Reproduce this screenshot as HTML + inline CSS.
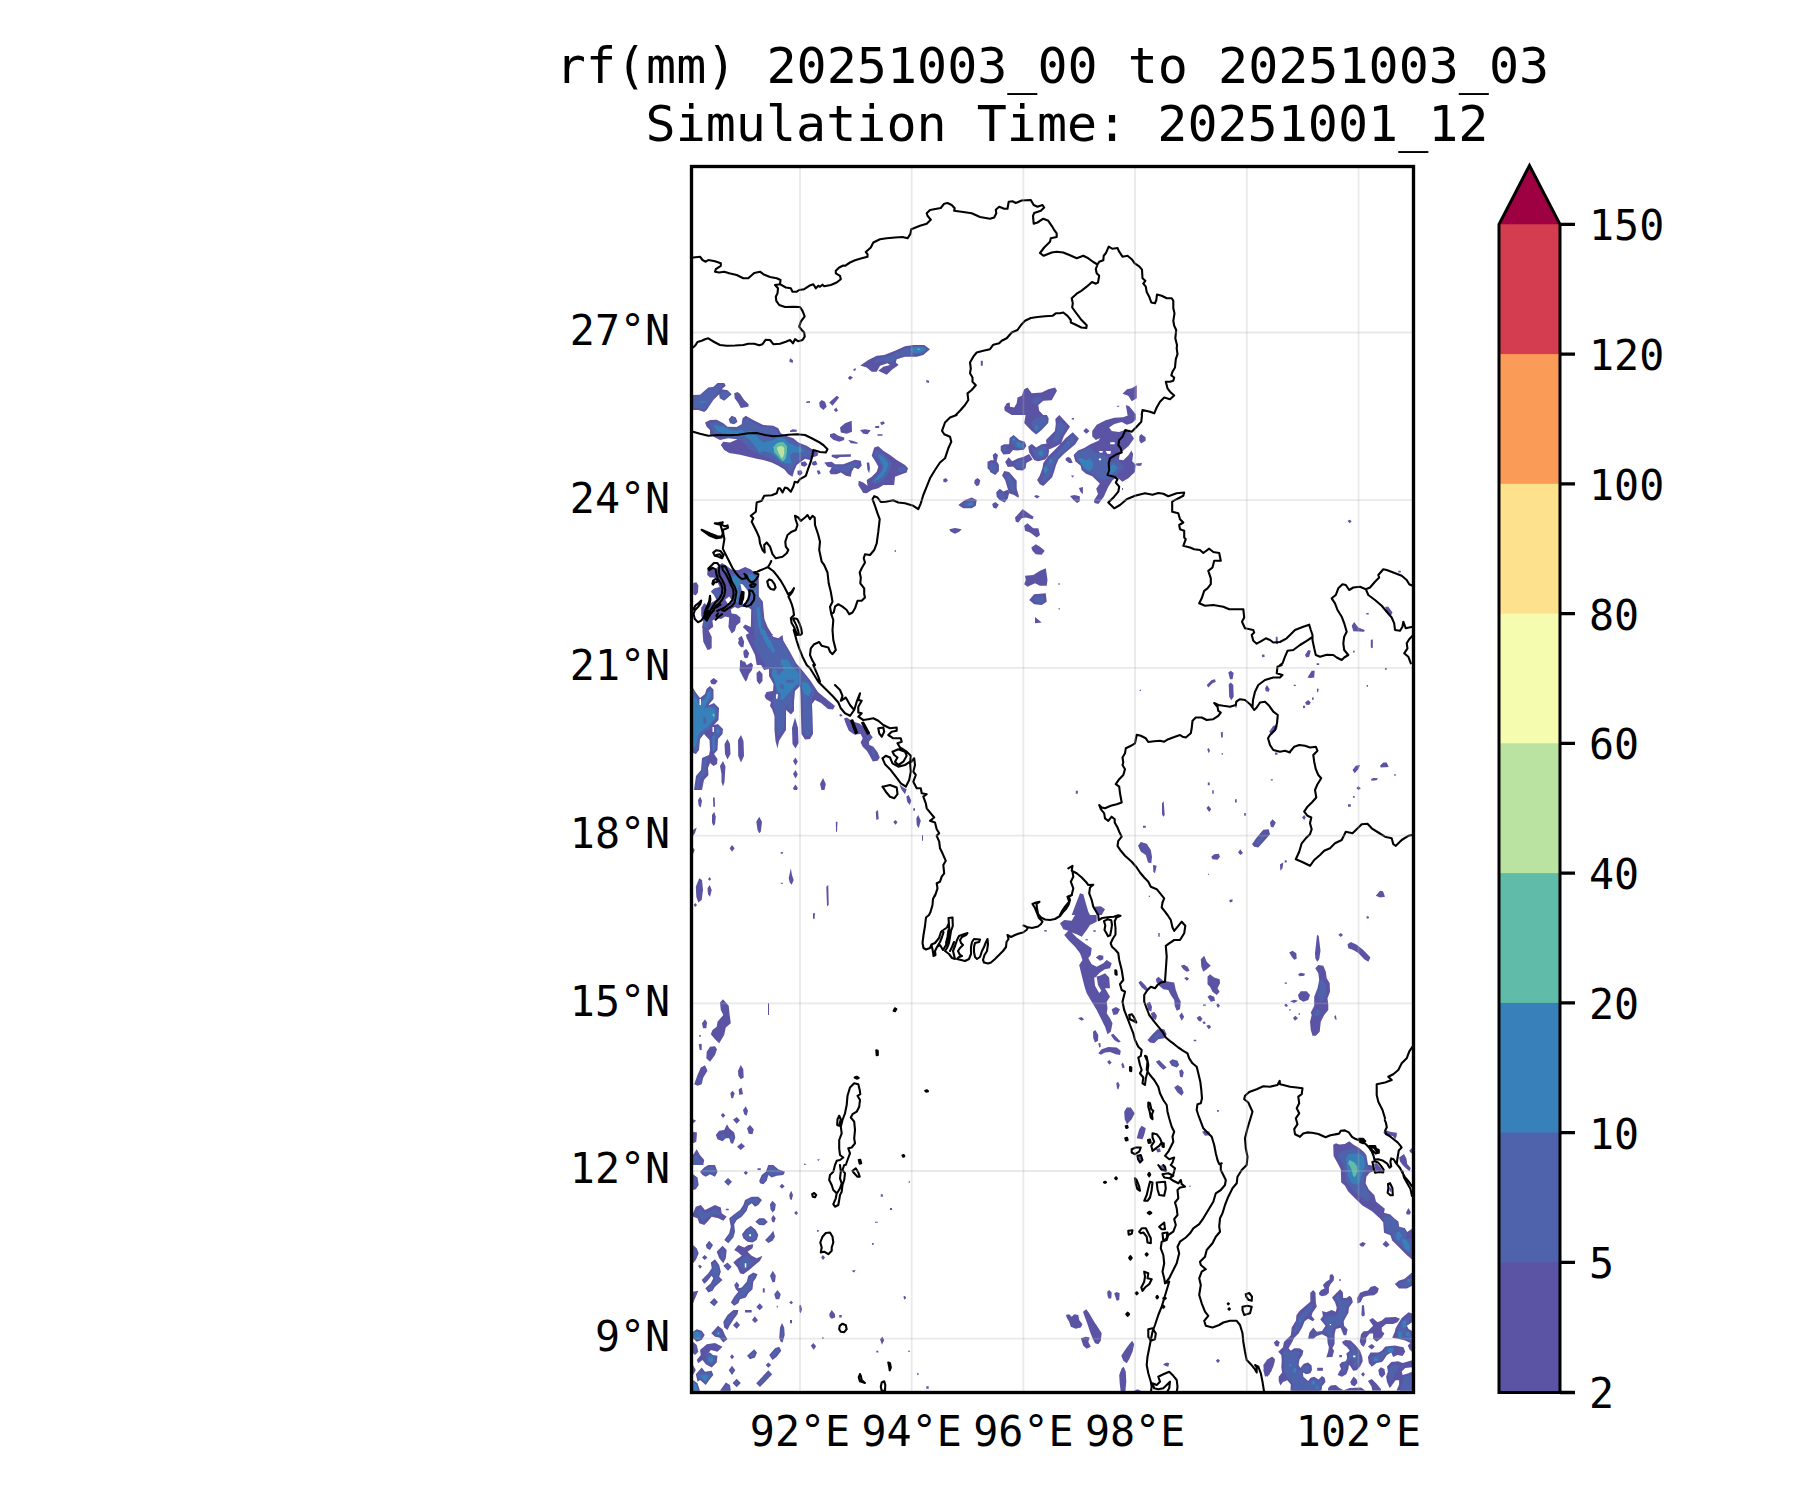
<!DOCTYPE html>
<html><head><meta charset="utf-8"><title>rf(mm)</title>
<style>
html,body{margin:0;padding:0;background:#fff;}
svg{display:block}
text{font-family:"DejaVu Sans Mono","Liberation Mono",monospace;fill:#000}
.t{font-size:50px;text-anchor:middle}
.l{font-size:41.67px}
.b{fill:none;stroke:#000;stroke-width:2.1;stroke-linejoin:round;stroke-linecap:round}
.g{stroke:#b0b0b0;stroke-opacity:0.28;stroke-width:1.8;fill:none}
.c1{fill:#5b53a4}.c2{fill:#4e63ac}.c3{fill:#3880b9}.c4{fill:#60bba8}.c5{fill:#bae3a1}.c6{fill:#f5fbaf}.c0{fill:#fff}
</style></head><body>
<svg width="1800" height="1500" viewBox="0 0 1800 1500">
<rect width="1800" height="1500" fill="#fff"/>
<text class="t" x="1052.5" y="83">rf(mm) 20251003_00 to 20251003_03</text>
<text class="t" x="1067" y="141">Simulation Time: 20251001_12</text>
<defs><clipPath id="ax"><rect x="691.5" y="166.5" width="722" height="1226"/></clipPath></defs>
<g clip-path="url(#ax)">
<path class="c1" d="M860.3 365.5L868.3 360L876.7 355.8L884.2 355L895 350.8L905 346.3L913.3 345L924.2 345L930 349.2L923.3 355L916.7 356.7L905 356.7L896.7 359.2L895.8 362.5L898.7 365L892.5 369.2L886.7 374.7L878.3 370.8L883.3 366.7L890 365L887.5 363.3L880 365.8L876.7 371.7L871.7 371.7L866.7 367.5ZM790 358.3L793 360.3L792.7 363L789.3 361.7ZM853.3 369.2L855.5 368L855.8 370.3L853.7 371ZM850 375.8L853 377.5L850 380L847.8 378ZM926.3 380L929.2 380.8L928.8 383L926.3 382.3ZM980.8 360.8L982.8 360.8L982.8 365.8L980.8 365.8ZM806.3 401.5L810 401L810 402.7L806.3 403ZM821.7 400L825 401.7L826.7 406.7L823.3 410L819.7 406.7L819.2 402.5ZM836.7 395.8L839.2 397.5L832.5 405.8L829.2 402.5ZM836.3 407.5L838 410.8L835.8 412L833.8 410ZM693 395L700 394.7L708.3 387.5L713.3 387L717.5 383L724.2 383L725.8 385.8L721.7 389.2L727.5 390.3L731.7 394.2L724.2 400.8L719.7 398.3L719.2 394.2L713.3 400L706.7 410L704.2 412L698.3 410L693 410ZM734.2 393.3L737.5 392L740 393.7L744.2 400L748.7 404.2L748.3 406.7L740.8 408L738.3 403.3L734.7 398.3ZM705 422.5L710 420L716.7 419.7L723.3 423.3L727.5 426.7L736.7 427L741.7 424.2L742.5 418.3L745.8 415.8L750 418.3L756.7 421.7L763.3 425L773.3 425.8L778.3 428.3L780.8 433.3L785.8 435.8L793.3 438.3L798.3 442.5L806.7 445.8L813.3 450L818.3 453.3L817.5 455.8L812.5 457.5L810 460L805 458.7L800 462.5L796.7 465L794.2 470.8L792.5 476.7L788.3 474.2L784.2 469.2L778.3 465.8L771.7 462.5L763.3 460L756.7 458.7L748.3 456.7L740 454.7L729.2 453L724.2 450L720.8 445L723.3 441.7L730 442.5L737.5 439.2L728.3 438.3L720 440L715 437.5L710 434.2L710 430L706.7 426.7ZM728.7 419.2L731.7 415.8L735.8 417.5L737.5 421.7L734.2 424.2L730 423.3ZM800.8 462.5L805 461.3L807.5 464.2L805 466.7L801.3 465.8ZM797.5 470.8L801.3 470.3L802.5 473.3L800 475.8L797.5 474.2ZM812.5 461.7L815.8 460.8L817.5 464.2L814.2 465.8L811.7 464.2ZM816.7 470.8L819.2 470.3L820.8 473.3L818.3 474.7ZM790 430.8L792.5 429.2L796.7 429.7L796.7 431.7L790 432ZM840 427.5L845 423.3L851.7 420.8L852 431.7L846.7 433.7L840.8 432.5ZM830 434.2L834.2 433L838.3 435.8L844.2 437.5L844.2 440L839.2 441.7L833.3 439.7L830 436.7ZM860 430L865 429.2L870.8 430.3L867.5 434.2L863.3 433.7ZM880 422.5L883.3 421.3L885 423.3L881.7 425.3ZM875 426.3L879.2 425.8L879.2 428L875.3 428ZM877.5 434.2L882.5 434.2L882.5 435.8L877.5 435.8ZM848.3 440L852.5 440.8L857.5 442.5L857.5 443.7L850.8 443.3ZM831.7 454.7L850.8 454.2L850.8 456.7L840 457L836.7 458.7L831.7 456.7ZM824.2 462.5L831.7 461.7L835 464.2L843.3 464.2L850 461.7L855 459.7L860.8 460.8L861.7 465.8L858.3 469.2L854.2 467.5L851.7 471.7L850.8 476.7L845.8 475.8L840.8 472.5L836.7 474.2L830.8 474.2L829.2 471.7L831.7 467.5L827.5 466.7ZM866.7 462.5L869.2 462.5L870 468.3L869.2 473.3L867.5 470ZM874.2 447.5L878.3 446.3L883.3 450.8L890 455L896.7 460L905 465L908 468.3L906.7 472.5L901.7 474.2L895 476.7L894.2 485L883.3 485L878.3 488.3L871.7 490L866.7 493.3L863.3 493L858.3 485L858.7 480.8L863.3 482.5L867.5 485.8L866.7 480L871.7 476.7L876.7 471.7L878.3 466.7L875 460.8L871.7 455.8ZM987.5 461.7L990 460.8L990 470.8L987.5 468.3ZM943.3 479.2L945.8 478L948 480.3L945.8 482.5L943.3 481.7ZM974.7 480L977.5 478L980.3 480.3L979.2 485L976.7 486.3L974.2 483.3ZM958.3 505L965 500L971.7 497.5L976.7 500L975.8 505.8L971.7 508.3L963.3 508.3ZM949.2 529.2L955 528L961.7 529.2L959.2 531.7L955 533.7L950.8 531.7ZM894.7 550L895.8 550L895.8 552L894.7 552ZM702.5 623.3L710 621.7L713.3 626.7L708.3 630L711.7 636.7L711.7 648.3L707.5 650L703.3 641.7L702.5 631.7ZM738.3 638.3L741.7 635.8L744.2 641.7L743.3 647.5L740 645.8ZM743.3 651.7L746.7 649.2L749.2 653.3L747.5 658.3L744.2 657.5ZM740 660.8L745 661.7L746.7 665L740 665ZM745.8 635L750.8 631.7L763.3 631.7L768.3 630L773.3 636.7L778.3 638.3L782.5 635L783.7 643.3L788.3 651.7L791.7 658.3L795 665L756.7 665L755 655L751.7 648.3L746.7 638.3ZM707.6 567.8L710 567L714.8 570.2L718 566.2L722 563L726 565.4L731.6 569.4L738 570.2L745.2 567L750.8 569.4L756.4 574.2L758.8 579L758.8 596.6L762.8 601.4L763.6 611L764.4 619L767.6 627L771.6 633.4L773.2 635L750.8 635L746 630.2L742.8 627L745.2 624.6L750.8 627L751.2 609.4L747.6 607L741.2 607L738 608.6L734.8 607L730.8 609.4L731.6 613.4L736.4 614.2L740.4 617.4L740.4 622.2L736.4 625.4L734.8 631L731.6 633.4L728.4 627L729.2 617.4L725.2 616.6L721.2 619L716.4 618.2L712.4 620.6L713.2 627L710.8 628.6L707.6 631.8L709.2 635L705.2 635L702 627L703.6 622.2L701.2 615.8L701.2 607.8L704.4 603L708.4 607L710.8 603L716.4 599.8L714 595L710.8 591.8L714 588.6L719.6 587L717.2 581.4L714 577.4L710 577.4L707.2 575ZM693.2 583L696.4 582.2L698.4 585.4L698 592.6L695.6 595.4L693.2 594.2ZM698 800L700.3 796.7L702 800.8L700.8 807.5L698.7 805.8ZM713 797.5L714.7 797.5L715 806.7L713.3 806.7ZM712 815L714.2 811.7L715.8 816.7L715 824.2L713.3 825.8L712 822.5ZM756.3 821.7L759.2 816.7L762 821.7L760.8 831.7L759.2 833.3L757.5 830ZM693 830L696.7 827.5L695 833.3L693 835.8ZM693 847.5L694.7 850L693 854.2ZM729.7 848.3L732 845L734.7 848.3L732 851.7ZM780.8 852L782.8 852L782.8 853.7L780.8 853.7ZM835.8 821.7L837.5 821.7L837 831.7L836 831.7ZM875.8 811.7L878 810L878.7 819.2L876.3 819.7ZM893.3 821.7L895.8 820L897.5 822.5L895.3 824.7ZM916.3 818.3L918.3 815L920.8 820.8L918.7 828.3L916.7 825ZM922 835L923 835L923 840.8L922 840.8ZM906.3 796.7L908.7 795L911.3 800.8L909.7 805L907.2 801.7ZM899.2 784.2L903.3 787.5L906.7 789.2L905 794.2L901.7 790ZM913.3 808.3L915 808.3L915 810.8L913.3 810.8ZM788.7 878.3L790.8 868.3L792 875L793.7 880L791.7 884.7L789.7 882.5ZM780.8 882.8L783 882.8L783 883.7L780.8 883.7ZM826.3 886.7L828.3 885L828.7 905L827 906.3ZM695.8 886.7L699.2 878.3L702 880L703 890L701.7 900L698.3 902.5L696.3 896.7ZM708 879.2L709.5 877L711.2 879.2L709.5 880.8ZM707.5 888.3L709.7 885L711.7 890L710 896.7L708 894.2ZM693.7 905L695.3 903L697 905L695.3 907ZM813 913.3L815 913.3L815 915L813 915ZM844 718.6L846.7 717.5L850.9 720.2L855.2 722.3L859.5 723.4L867 729.8L870.2 734L872.8 737.2L869.1 741.5L869.1 744.7L873.4 746.8L877.6 752.2L879.8 757.5L877.6 760.7L872.8 761.6L869.6 755.4L867 751.1L862.7 746.8L860.6 742.6L862.7 738.3L860.6 734L854.1 734.6L848.8 730.8L846.1 724.4ZM748 640L783 640L790 652L796 663L802 670L810 680L818 692L824 697L835 706L833 709.5L828 709L821 703L815 700L812 704L812.5 716L813 734L810 739L805 739.5L801.5 734L801 717L800.5 696L800 686L795 691L794 702L794 711L791 714.5L786 710L786 730L782 736L779 741L777.5 748.5L775.5 741L774.5 730L774.5 716L772 709L770 706L771 702L766 699L764.5 696L766.5 692L773 691L773.5 684L769 676L769 669L764 670L761 665L760 659L756 653L752 646ZM743.5 651L746 649L749 653L748 657L745.5 658.5L743.5 655ZM740 660.5L742 660L743 664L747 665L751 662.5L753 665L752 670L749 674L747 680L745.5 681.5L743 677L739.5 670L740 665ZM756.5 673L759.5 670.5L762.5 674L762.5 681L759.5 684.5L756.8 681ZM710 681L713.5 678L717.8 681L715 684.5L711.5 684ZM738 643L739 640L743.5 640L743.5 645L741.5 647.5L739 645ZM703 640L711.5 640L711.5 648L709 650L706.5 645ZM693 688L695.5 692L700 698L705 694L706.5 689L710 686L713.5 689.5L713.5 699L710 703L708.5 705.5L714 703L719 708L718.5 720L714 725L718 724L723 729L722.5 734L718 739L717.5 750L714 754L717.5 759L717 764L713.5 766L710 763L708 768L708.5 775L704 780L702 790L694 790L696 776L701 770L702 758L709 755L710 750L709.5 740L704 734L700 739L699 750L696 754L693 753ZM724.5 744L727.5 739L730 744L730.5 754L727.5 759.5L725 754ZM738 740L741 735L743.5 741L744 756L741 762.5L738.2 756ZM720 766L723 761L725.5 766.5L725 773L724.5 782L723 786.5L721.5 782L721.5 774ZM792 728L795 717.5L798 728L798.5 743L795.5 748.5L792.5 744ZM793 761L795.5 757.5L797.8 761.5L795.5 765.5ZM793 774L795.5 770L797.8 774.5L795.5 778.5ZM793 788L795.5 784.5L797.8 788L797 790L794 790ZM820 784L823 778L825.8 784L824.5 790L821.5 790ZM839 715L841 714L842.5 715.5L840.8 716.8ZM720 1002.5L723 999.2L728.7 1005.8L729.7 1015L730.8 1023.3L725.8 1027.5L724.2 1035L719.2 1043.3L715 1039.2L710.8 1034.2L712.5 1030L716.7 1026.7L717.5 1021.7L723.3 1015L720.8 1010ZM702 1023.3L705 1019.2L707 1022.5L706.3 1028.3L703 1028.3ZM699.2 1035L700.8 1035L700.8 1036.7L699.2 1036.7ZM698.7 1044.2L701.7 1043.7L701.7 1050L699.7 1050.3ZM706.7 1051.7L710 1046.7L715 1046.3L717 1049.2L715 1055L710 1061.7L706.3 1058.3ZM694.2 1084.2L697.5 1075L700.8 1067.5L705 1065.3L707.5 1070.8L703.3 1077.5L701.7 1084.2L697.5 1085.8ZM738 1070.8L740.8 1065L743.3 1069.2L743.7 1077.5L740.8 1079.2L738.3 1075.8ZM738.7 1089.2L741.7 1087.5L743 1094.2L739.2 1094.7ZM730.3 1093.3L732.5 1090.8L734.7 1093.3L733 1098.3L731.3 1098.3ZM743 1110L745.8 1106.3L748 1110.8L746.7 1115.8L744.2 1114.2ZM720.8 1115L723 1113L725.3 1115.5L723 1118ZM733 1119.7L736.7 1117L740 1120.3L736.7 1123.7ZM747 1128.3L750 1125L753.8 1129.2L752.5 1134.2L748.7 1133.7ZM715.8 1135L719.2 1130.8L724.2 1130L727 1124.2L729.2 1128.3L734.2 1132.5L735.3 1137.5L733 1143.7L730.8 1143.3L729.2 1138.3L725.8 1138.3L722.5 1141.3L717.5 1139.2ZM737 1146.7L741.3 1143L745 1146.3L740.8 1150ZM693 1119.2L696.3 1120.8L693 1123.3ZM693 1131.7L697 1132.5L696.3 1141.7L693 1143.3ZM693 1155L696.7 1149.2L700 1155L704.2 1160L703.3 1165L693 1165ZM768 1003.3L769 1003.3L769 1015L768 1015ZM813 915L814.7 915L814.7 918.7L813 918.7ZM817 1159.7L820 1158.8L818.3 1161ZM804.2 1163.3L806.7 1165L804.2 1165ZM700 1171.7L704.2 1167.5L708.3 1165L715 1165L717.5 1171.7L715 1176.7L710 1174.2L705.8 1176.7L702.5 1175ZM693 1174.2L697.5 1177.5L698.7 1185L695.8 1189.2L693 1190ZM724.2 1181.7L728 1178L732 1181.7L728.3 1185.8ZM743.7 1172.8L745.8 1170.8L748 1172.8L745.8 1175ZM757.5 1168.3L760.8 1168.3L760.8 1170L757.5 1170ZM759.2 1180.8L761.7 1175L765.8 1171.7L768.3 1165L773.3 1165L778.3 1169.2L785 1171.7L783.3 1175L776.7 1175.8L771.7 1177.5L768.3 1175L766.7 1180.8L763.3 1184.2L760 1183.3ZM779.5 1186.3L782 1183.7L784.7 1186.3L782 1188.8ZM789.2 1195L791.2 1190.8L793 1195L791.7 1200L790 1199.2ZM794.2 1213L796.2 1210.8L798 1213.3L796.2 1215ZM770 1204.2L772.5 1200.8L775.8 1204.2L775 1210L772.5 1212.5L770.5 1209.2ZM771.3 1218.3L773.3 1215L775.8 1218.3L774.2 1222.5L772 1221.7ZM755.3 1221.7L759.2 1218.3L764.2 1218.3L767.8 1222L764.2 1225.3L759.2 1225ZM765 1240L770 1235L773.3 1230.8L775 1236.7L772.5 1240.8L768.3 1243ZM693 1213.3L695.8 1206.7L700.8 1205L705 1210L710 1207.5L715 1205L720.8 1207.5L721.7 1213.3L726.7 1216.7L723.3 1220.8L718.3 1218.3L711.7 1216.7L707.5 1221.7L704.2 1225L699.2 1223.3L697.5 1218.3L693 1216.7ZM729.2 1218.3L734.2 1214.2L740 1210L743.3 1205L745 1200L751.7 1196.7L758.3 1196.7L762 1200L758.3 1205L755 1206.7L751.7 1203.3L748.3 1205.8L746.7 1210.8L741.7 1216.7L736.7 1220L734.2 1224.2L735 1231.7L733.3 1237.5L728.3 1243.3L724.2 1240L729.2 1233.3L730.8 1226.7L730 1222.5ZM725.8 1208.7L728.7 1208.7L728.7 1210.3L725.8 1210.3ZM742 1234.2L745.8 1229.2L750.8 1225.8L755.8 1230L758.3 1235L756.7 1240L752.5 1242.5L747.5 1241.7L743.3 1238.3ZM705.8 1245L709.2 1240.8L713 1245L710 1250L706.7 1248.3ZM693 1245L696.7 1248.3L698.7 1253.3L695.8 1260L693 1263.3ZM716.7 1251.7L722.5 1245.8L726.7 1250L725.8 1258.3L723.3 1263.3L719.2 1258.3ZM702 1257.5L704.7 1255L707.5 1257.5L704.7 1260ZM734.2 1250L738.3 1245L744.2 1247.5L748.3 1245L753.3 1244.2L752.5 1248.3L747.5 1251.7L751.7 1255.8L756.7 1258.3L762.5 1255.8L760 1260.8L755 1265L749.2 1270L743.3 1274.2L740 1273.3L737.5 1267.5L733.3 1262.5L736.7 1259.2L741.7 1255.8L738.3 1252.5ZM723.3 1265.8L727.5 1262.5L731.7 1266.7L728 1270.8ZM698 1265.8L700 1264.7L702 1266.7L700 1268.7ZM701.7 1280L708.3 1273.3L711.7 1268.3L710.8 1262.5L715 1259.2L719.2 1265L720.8 1271.7L719.2 1276.7L722.5 1280L715 1286.7L712.5 1290.8L708.3 1292.5L705.3 1288.3L710.8 1283.3L713.3 1278.3L711.7 1275.8L706.7 1281.7L704.2 1283.7ZM770 1275.8L772.8 1270.8L775.8 1275.8L775 1281.7L772.5 1282.5ZM734.2 1285L736.7 1281.7L739.2 1285L738.3 1288.3L741.7 1287.5L746.7 1281.7L748.3 1275.8L753.3 1272.5L757.5 1274.2L755.8 1278.3L753.3 1281.7L752.5 1289.2L748.3 1293.3L745.8 1297.5L740 1299.2L738.3 1303.3L734.2 1305.8L730.8 1302.5L734.2 1296.7L738.3 1291.7L735.8 1289.2ZM693 1291.7L698.3 1290.8L695.8 1296.7L693 1303.3ZM709.7 1302.5L714.2 1298L718 1302L714.2 1306.3ZM762.8 1288.3L764.7 1288.3L764.7 1292.5L762.8 1292.5ZM774.2 1294.2L777.5 1290L780.8 1294.2L779.2 1299.2L775.8 1299.2ZM789.2 1302.5L791.2 1300.8L793 1302.7L791.2 1304.2ZM756.3 1307L759.7 1303.3L763 1307L759.7 1310.3ZM799.2 1305.8L800.8 1304.7L802 1309.2L800.8 1313.3L799.5 1311.7ZM745 1310L751.7 1310L751.7 1312.5L745 1312.5ZM752 1320L754.7 1316.3L758 1320.3L755 1323ZM723.3 1321.7L727.5 1315L733.3 1310L738.3 1310L737.5 1314.2L733.7 1319.2L730 1325L727.5 1330L724.2 1327.5ZM733 1325.3L736.7 1321.3L740 1325L736.7 1328.7ZM790 1320L792 1320L792 1323.3L790 1323.3ZM779.2 1338.3L780 1327.5L782 1323L784.2 1327.5L784.7 1335L782.5 1342.5L780.8 1341.7ZM711.3 1333.3L718 1325.8L722.5 1329.2L725 1335L727.5 1339.2L723.3 1342.5L719.2 1337.5L715 1336.7ZM693 1331.7L696.7 1329.2L701.7 1330.8L704.7 1335L701.7 1340L696.7 1341.7L693 1338.3ZM693 1341.7L696.7 1345L698.3 1351.7L695 1355L693 1353.3ZM700 1350L706.7 1344.2L715 1343L722.5 1346.7L717.5 1351.7L710.8 1350L708.3 1353.3L712.5 1355L717.5 1355.8L716.7 1362.5L711.7 1367.5L705.8 1364.2L702.5 1360L698.3 1363.3L696.7 1360L700.8 1355ZM730 1356.7L732 1354.2L734.2 1356.7L732 1359.2ZM747 1355.8L754.2 1349.2L757 1352.5L755 1357.5L750 1359.2ZM769.2 1355L775 1348.3L779.2 1346.7L781.3 1350.8L776.7 1356.7L772.5 1360ZM765.8 1365L768.3 1362.5L771.2 1365L768.3 1367.8ZM728.7 1370.3L732 1365.8L735.3 1370.3L732 1375ZM756.2 1383.3L768.3 1370.3L772.2 1374.2L760 1387ZM732.5 1383L736.7 1378.8L740.8 1383L736.7 1387.2ZM720 1390.8L725.8 1382.5L730 1385L730.8 1390.8ZM693 1365L695.8 1370L693 1375ZM695.8 1374.2L701.7 1367.5L705 1371.7L711.7 1370.8L713.3 1375L709.2 1380L705.8 1385L700 1380L697.5 1381.7ZM693 1380L697.5 1383.3L700 1390.8L693 1390.8ZM810.8 1345.8L813.3 1343L816.2 1346.3L813.7 1349.7ZM829.2 1314.2L831.7 1310L835 1314.2L835 1317.5L831.7 1318.7L829.7 1317ZM839.2 1315L841.7 1315L841.7 1317.5L839.2 1317.5ZM821.2 1257.5L822.8 1255L825 1257.5L823 1260ZM851.3 1270.8L855.8 1270L854.2 1272.5ZM880 1339.2L882.5 1336.7L884.2 1340L882 1344.7ZM880.8 1194.2L882.8 1194.2L882.8 1196.7L880.8 1196.7ZM890 1208L892 1208L892 1210L890 1210ZM908.7 1181.2L910 1181.2L910 1182.8L908.7 1182.8ZM875 1221.7L877.8 1221.7L877.8 1222.8L875 1222.8ZM872 1243L873.7 1243L873.7 1244.7L872 1244.7ZM817 1230L818.7 1230L818.7 1231.7L817 1231.7ZM903.3 1296.7L905 1295.8L906.2 1298L904.5 1299.7ZM876.3 1350.8L878.3 1350.8L878.3 1352.5L876.3 1352.5ZM908 1350.8L910 1350.8L910 1351.7L908 1351.7ZM917 1373.3L918.7 1373.3L918.7 1374.7L917 1374.7ZM926.3 1386.2L928.7 1386.2L928.7 1388.7L926.3 1388.7ZM822 1337.5L823.7 1337.5L823.7 1338.7L822 1338.7ZM776.7 1305.8L777.8 1305.8L777.8 1307.5L776.7 1307.5ZM1004.2 407.5L1006.7 403.3L1009.7 402.5L1010 406.7L1014.2 407.5L1016.7 403.3L1017.5 397.5L1021.7 395.8L1024.2 389.2L1027.5 387.5L1031.7 393.3L1041.7 392.5L1048.3 389.2L1055 387.5L1057 390.8L1054.2 395.8L1051.7 400.3L1043.3 400.8L1038.3 405L1039.2 410.8L1043.3 415L1011.7 415L1004.7 410.8ZM1122.5 393.7L1127 389.2L1131.7 388.3L1136.7 385.3L1136.7 398.3L1131.7 401.3L1128.3 395.8ZM1125.8 405L1129.2 406.3L1135.8 414.2L1135.8 415L1127.5 415ZM1117 405.8L1119.2 405.8L1119.2 406.8L1117 406.8ZM1015 517.5L1022.5 509.2L1028.3 513.3L1033.7 516.7L1032.5 519.2L1025.8 517.5L1021.7 518.3L1018.3 522.5L1015.8 521.7ZM1024.2 525.8L1027.5 523.3L1033.3 528.3L1038.3 528.3L1040 535L1036.7 537.5L1030 532.5L1025 530.8ZM1031.3 547.5L1035.8 544.2L1040 546.7L1044.7 550.8L1041.7 554.7L1035.8 554.2L1032.5 550.8ZM1025 575.8L1033.3 575L1040 570.8L1045.8 568.3L1047.5 580L1046.7 585.8L1040 585.8L1035 583.3L1027.5 586.7L1024.2 584.2L1025.8 580ZM1029.2 600L1034.2 594.2L1045.8 593.3L1046.7 601.7L1041.7 605L1034.2 604.2ZM1035 617L1041.7 622.5L1035 623.3ZM1058.3 583.3L1059.7 583.3L1059.7 584.7L1058.3 584.7ZM1058.3 608.3L1060 608.3L1059.2 610.3ZM1261.7 655L1264.2 654.2L1264.7 656.7L1262.5 657.5ZM1275.8 636.7L1277.5 636.7L1278 644.2L1275.8 643.7ZM1024.2 423L1025.6 415L1046.9 415L1048.7 418.6L1048.2 423L1041.6 430.1L1036.2 434.6L1031.8 431L1027.3 426.6ZM1055.3 419L1059.3 415L1070 426.6L1063.8 436.3L1061.1 443.6L1056.2 446.3L1051.3 448.6L1047.3 450.1L1046 439.9L1054.9 431L1055.8 423.9ZM1028.2 446.6L1031.8 443.9L1036.2 447.4L1041.6 444.3L1047.8 443.4L1049.1 450.6L1048.2 455.9L1045.1 459.4L1038 461.2L1034.4 460.3L1031.8 456.8L1029.1 452.3ZM1072.7 432.3L1078.9 438.6L1075.3 444.3L1070 448.8L1063.8 454.1L1058.4 459.4L1055.8 465.7L1054 471.9L1052.2 477.2L1046.9 482.6L1043.3 486.1L1039.8 484.3L1037.1 479.9L1039.8 475.4L1042.4 468.3L1043.3 463L1048.2 456.3L1053.6 451L1060.2 444.2L1065.6 438.3ZM1000.7 446.1L1004.2 444.3L1009.1 444.3L1009.6 438.1L1013.6 435L1019.3 439.9L1024.7 441.7L1026.4 446.1L1023.8 449.7L1016.7 450.6L1013.1 450.1L1009.6 454.1L1003.3 454.6L1000.7 450.6ZM1005.1 462.1L1008.7 457.2L1012.2 461.2L1017.6 458.6L1023.8 456.8L1029.1 454.1L1032.7 459.4L1026.4 463L1025.6 468.3L1022.9 470.6L1016.7 470.1L1013.1 466.6L1007.8 467ZM990 460.3L993.6 460.3L992.7 455L995.3 452.8L998 455L996.7 461.2L998.9 464.8L998.9 471L995.3 475L990 471.9ZM1002 475.4L1004.2 471L1009.1 471.9L1016.7 480.8L1016.7 488.8L1018.9 495.9L1018.4 497.7L1014 495L1009.1 493.2L1006.9 486.1L1005.1 479.9ZM996.2 492.3L999.8 488.8L1003.3 491.4L1007.8 489.7L1009.1 493.2L1007.8 498.6L1004.7 502.6L999.8 500.3L996.7 496.8ZM992.2 503.9L995.3 502.1L998.9 504.8L996.2 508.8L993.1 507.4ZM1092.2 431L1096.7 424.8L1105.6 420.3L1114.4 417.7L1123.3 417.2L1128.7 415L1135.8 415L1135.8 419.4L1132.2 423L1126.9 424.8L1121.6 422.1L1114.4 423.9L1109.1 427.4L1111.8 431L1118.9 431.9L1125.1 430.1L1130.4 432.8L1134 438.6L1128.7 446.1L1123.3 450.6L1119.8 454.1L1118.9 459.4L1123.3 460.3L1128.7 455L1131.3 450.6L1133.1 454.1L1132.2 461.2L1135.8 464.8L1134.9 471.9L1128.7 478.1L1122.4 481.7L1117.1 477.2L1112.7 479.9L1108.2 487L1103.8 496.8L1098.4 503.9L1094.4 503L1094 500.3L1098 494.1L1096.2 488.8L1099.8 483.4L1092.2 476.3L1086 473.7L1081.6 470.1L1080.7 465.7L1075.3 461.2L1073.6 455L1078 450.6L1084.2 447.9L1090.4 444.3L1098.4 440.8L1100.2 438.1L1095.8 439.9L1092.2 436.3ZM1083.3 431L1086 427.9L1089.6 431L1086.4 433.7ZM1139.3 436.3L1141.1 434.1L1145.6 437.2L1145.6 440.8L1141.1 443.4L1139.3 440.8ZM1135.8 463.4L1142 463L1141.1 465.7L1136.7 465.7ZM1065.6 458.6L1068.2 456.8L1070.9 458.6L1072.7 463L1069.1 463L1065.6 460.3ZM1070.9 475.4L1074 475.4L1072.7 477.7ZM1078.9 487.9L1082.9 487L1082.9 494.1L1080.7 492.3ZM1070 495.9L1074.4 495L1079.8 496.3L1079.8 501.2L1077.1 503L1073.6 500.3ZM1034 496.3L1036.2 495L1039.8 496.3L1037.1 498.6ZM1071.8 418.1L1074 418.1L1074 419.4L1071.8 419.4ZM1018.4 515L1022.9 509.2L1030.9 515ZM1122 487.9L1122.9 487.9L1122.9 490.1L1122 490.1ZM1071.7 915L1076.7 901.7L1080 893.3L1083.3 894.2L1085.8 903.3L1088.3 911.7L1090 915ZM1094.2 906.7L1100.8 906.3L1105 909.2L1101.7 915L1096.7 915ZM1075.8 790.8L1077.8 790.8L1077.8 793.7L1075.8 793.7ZM1139.7 689.7L1141 689.7L1141 691L1139.7 691ZM1206.7 685L1211.7 680L1215 679.2L1215.8 681.7L1212.5 683.3L1208.3 687.5ZM1228.3 672.5L1230.8 670.8L1233.7 673L1232.5 679.2L1230 679.2ZM1228.7 684.2L1230.8 682.5L1233.3 685L1233.7 696.7L1231.3 700.3L1229.2 696.7ZM1265 688.3L1267 685L1269.7 689.2L1268.7 691.7L1265.8 691.3ZM1235.3 704.2L1236.7 704.2L1236.7 707.5L1235.3 707.5ZM1220.8 732.5L1222.8 731.7L1222.8 737.5L1221.2 737.5ZM1207.2 749.2L1208.7 748L1210 750.8L1208.7 753.3ZM1221.7 753L1222.8 753L1222.8 754.7L1221.7 754.7ZM1269.2 731.7L1273.3 725.8L1277.8 725.3L1277 729.2L1271.7 735ZM1275 752.5L1277.5 752.5L1277.5 754.7L1275 754.7ZM1207.8 782.5L1209.7 782.5L1209.7 785.3L1207.8 785.3ZM1212.2 790.3L1213.7 790.3L1213.7 793.7L1212.2 793.7ZM1270.8 779.2L1272.8 779.2L1272.8 780.5L1270.8 780.5ZM1235 799.2L1236.7 799.2L1236.7 802.5L1235 802.5ZM1206.3 808L1208.7 805.8L1211.2 809.2L1209.2 812ZM1162 803.3L1163.7 801.3L1164.7 815L1163.3 816.7L1162 814.2ZM1244.2 813L1245.8 813L1245.8 815.8L1244.2 815.8ZM1143 825.8L1145.8 825.8L1145.8 827.8L1143 827.8ZM1270 822.5L1272.5 819.2L1275.8 822.5L1273.3 827.5L1270.8 826.7ZM1252 844.2L1256.7 837.5L1263.3 829.7L1268.7 829.2L1270 834.2L1265 840L1258.3 847.5L1254.2 846.7ZM1138 845.8L1140.8 842L1146.7 843.7L1150.8 850L1152 856.7L1151.3 863.3L1148 862.5L1145.8 855L1140.8 851.7ZM1153 865L1156.7 865.8L1155 873.3L1153.3 871.7ZM1211.3 856.7L1214.2 854.2L1218.7 853.7L1220 856.7L1217.5 859.7L1212.5 859.2ZM1238 852.5L1240.3 849.2L1243 853L1240.5 855ZM1280 864.2L1283.3 862.5L1282.5 868.3L1280.3 870.8ZM1284.7 860.3L1286.7 860.3L1286.7 862.5L1284.7 862.5ZM1229.2 900L1232.5 899.2L1232.5 901.7L1230 902.5ZM1208 873.8L1209 873.8L1209 874.8L1208 874.8ZM1148.8 895.8L1150 895.8L1150 897L1148.8 897ZM1060 923.3L1064.2 920L1071.7 920.8L1075 915L1096.7 915L1096.7 921.7L1090 925L1086.7 930L1081.7 936.7L1076.7 934.2L1071.7 932.5L1076.7 937.5L1083.3 942.5L1091.7 948.3L1090.8 955L1088.3 958.3L1091.7 964.2L1096.7 966.7L1103.3 963.3L1106.7 960L1111.7 963.3L1110 968.3L1105 969.2L1100 972.5L1095.8 976.7L1100 975.8L1105 973.3L1109.2 977.5L1110 988.3L1105 988.3L1110 996.7L1106.7 1001.7L1107.5 1008.3L1106.7 1013.3L1110 1018.3L1112.5 1023.3L1110.8 1031.7L1107.5 1034.2L1105 1026.7L1100.8 1018.3L1096.7 1010L1091.7 1001.7L1086.7 993.3L1085 988.3L1083.3 981.7L1080.8 971.7L1079.2 965L1082.5 960L1080 953.3L1075 946.7L1068.3 940L1064.2 935L1068.3 930.8L1063.3 929.2ZM1095.8 957.5L1099.2 955L1103.3 955.8L1103.3 959.2L1100 960.8ZM1093.3 930.3L1095.8 930.3L1095.8 931.7L1093.3 931.7ZM1085.3 939.2L1088 939.2L1088 940.3L1085.3 940.3ZM1044.2 930L1047 930.3L1046.7 931.7L1044.2 931.3ZM1111.7 1009.2L1115.8 1007L1120 1009.2L1117.5 1014.2L1113.3 1015ZM1078 1018.3L1081.3 1017L1084.2 1019.2L1081.7 1020.8ZM1093 1031.7L1095.3 1030L1098.3 1035L1098 1040.8L1095 1042.5L1093.3 1038.3ZM1110.8 1035L1113.3 1033.7L1117.5 1038.3L1120.8 1041.7L1118.3 1042.5L1114.2 1040ZM1098.3 1043.3L1100.3 1043L1100.8 1046.7L1099.2 1047.5ZM1098.3 1053.3L1101.7 1049.2L1108.3 1047L1116.7 1047.5L1120.8 1050.8L1120 1055L1115.8 1054.2L1110 1052L1105 1052.5L1100.8 1054.7ZM1107.2 1061.7L1109.2 1060L1111.7 1062.5L1109.2 1064.7ZM1121.3 1064.2L1123 1062.5L1124.7 1067.5L1122.5 1068.3ZM1116.3 1083.3L1118 1081.7L1119.7 1085L1118.3 1089.7L1117 1088.3ZM1124.2 1111.7L1126.7 1107.5L1130.8 1107.5L1134.7 1113.3L1131.7 1119.2L1127 1124.2L1124.7 1119.2ZM1136.7 1138.3L1139.2 1129.2L1141.7 1125.8L1145.8 1128.3L1144.2 1135L1142.5 1139.2ZM1155.8 1149.2L1160 1148.3L1160.8 1151.7L1157.5 1152.5ZM1138 1155.8L1140.8 1155.3L1142.2 1160L1140 1162ZM1138.3 982.5L1140.8 980.8L1145 985L1148.3 989.2L1145.8 990.8L1141.7 987.5ZM1155.8 979.2L1158.3 976.7L1163.3 980.8L1169.2 981.7L1174.2 982.5L1175.8 990L1178.3 996.7L1180.8 1001.7L1180 1009.2L1176.7 1010.8L1174.7 1005.8L1174.2 1000L1170.8 995L1168.3 990L1163.3 989.2L1159.2 985.8L1156.7 982.5ZM1146.7 1003.3L1150 1001.7L1152 1006.7L1151.3 1011.7L1148.3 1010ZM1150.8 1013.3L1154.2 1011.7L1157 1015.8L1155.8 1020L1152.5 1018.3ZM1179.2 1015.8L1181.7 1012.5L1184.2 1016.7L1181.7 1020.8ZM1147.5 1040L1152.5 1034.2L1157.5 1029.2L1164.2 1029.2L1166.7 1034.2L1164.2 1038.3L1158.3 1039.2L1154.2 1043.3L1150 1042.5ZM1155.8 1061.7L1159.2 1060L1163.3 1064.2L1166.7 1067.5L1163.3 1069.7L1160 1066.7ZM1169.2 1061.7L1172.5 1059.2L1177.5 1060.8L1179.2 1065L1176.7 1067.5L1171.7 1065.8ZM1179.2 1070.8L1182 1069.2L1183.8 1072.5L1182.5 1077.5L1180 1076.7ZM1174.2 1087.5L1177.5 1085L1181.7 1087.5L1183.7 1092.5L1181.7 1095.8L1177.5 1092.5ZM1180.8 965.8L1184.2 964.7L1187.5 966.7L1189.7 970.8L1186.7 971.7L1183.3 969.2ZM1184.2 978L1186.7 977L1189.2 978.7L1186.7 980.8ZM1200.8 959.2L1204.2 955.8L1206.7 961.7L1210.8 965.8L1206.7 969.2L1203.3 971.7L1201.3 966.7ZM1207.5 976.7L1210 974.2L1214.2 977.5L1219.7 979.2L1220 983.3L1217.5 988.3L1219.7 991.7L1216.7 995L1212.5 991.7L1210 986.7L1207.5 984.2ZM1207.5 996.7L1210 995L1214.2 996.7L1215 1000.8L1210.8 1001.7ZM1216.3 1005L1218 1003.3L1220 1005.8L1218 1008ZM1203 1004.5L1205.8 1004.5L1205.8 1005.8L1203 1005.8ZM1196.7 1017.5L1200 1015.8L1202.5 1018.7L1200.3 1021.7L1198 1020.3ZM1202.5 1022.2L1204.5 1021.3L1205.8 1023.3L1203.8 1024.3ZM1206.3 1025.8L1209.2 1024.7L1211.2 1027L1208.7 1029.2ZM1193.7 1039.7L1196.2 1039.7L1196.2 1041.3L1193.7 1041.3ZM1158.3 933L1159.7 933L1159.7 936.7L1158.3 936.7ZM1217 1110L1218.8 1110L1218.8 1111.7L1217 1111.7ZM1202 1131.7L1205 1130.8L1209.7 1131.7L1209.2 1135.3L1205 1135.8ZM1285 982.5L1287 982.5L1287 983.7L1285 983.7ZM1284.7 1005L1286.3 1003.7L1288 1005.8L1286.3 1007ZM1107.2 1291.7L1109.2 1290L1111.7 1292.5L1111.3 1298.3L1108.7 1298.8L1107.5 1295.8ZM1114.2 1293.3L1116.7 1292L1119.7 1293.3L1119.2 1300L1116.7 1300.8L1115.3 1296.7ZM1065.8 1315L1069.2 1314.2L1071.7 1316.7L1074.2 1314.2L1078.3 1315L1079.2 1320L1082.5 1324.2L1080.8 1327.5L1075.8 1328.7L1070.8 1326.7L1069.2 1321.7L1067 1318.3ZM1083 1311.7L1086.3 1309.2L1089.2 1313.3L1094.2 1321.7L1099.2 1329.2L1101.7 1333.3L1100.8 1340.8L1098.3 1344.2L1095 1343.3L1092.5 1338.3L1090 1331.7L1087.5 1324.2L1085 1317.5ZM1080.8 1338.3L1085.8 1336.7L1089.7 1337.5L1088.3 1341.7L1090.8 1346.7L1086.7 1348.7L1083.3 1345.8ZM1121.3 1355.8L1125 1350L1129.2 1344.2L1132.2 1340.8L1134.2 1344.2L1132.5 1351.7L1129.2 1359.2L1126.7 1363.3L1123.3 1360.8ZM1119.2 1375L1121.7 1368.3L1123.8 1366.7L1125.8 1371.7L1126.3 1381.7L1125.3 1392.5L1120.8 1392.5L1119.7 1383.3ZM1134.2 1390.8L1137.5 1389.2L1140.8 1390.8L1140.8 1392.5L1134.2 1392.5ZM1163 1364.2L1166.7 1362.5L1169.2 1363.3L1168.3 1366.7L1165 1365.8ZM1215.8 1360.8L1218 1358.7L1220 1360.8L1218 1363ZM1189.2 1185.8L1190.8 1185.8L1190.8 1186.7L1189.2 1186.7ZM1159.2 1165.8L1163.3 1165L1165.8 1168.3L1163.3 1170.8L1160 1169.2ZM1263.3 1365L1267.5 1359.2L1272.5 1356.7L1275 1359.2L1273.3 1365L1271.7 1370.8L1267.5 1376.7L1264.2 1374.2ZM1273.8 1342.5L1276.7 1340L1279.7 1342.5L1278.3 1346.7L1275.3 1345.8ZM1347.5 520.8L1349.7 519.7L1351.7 521.3L1349.7 523.3ZM1398.3 570.8L1400.8 570.8L1400.8 572.5L1398.3 572.5ZM1385 606.7L1388.3 606.7L1392.5 612.5L1390.8 615.8L1387.5 613.3ZM1366.3 613L1368.7 613L1368.7 614.5L1366.3 614.5ZM1351.7 625.8L1354.2 622L1358.3 627.5L1364.7 630L1364.2 631.7L1353.3 631.3ZM1370.8 640L1372.8 639.2L1372.8 648.3L1370.8 647.5ZM1353 650.8L1354.7 650.8L1354.7 652.5L1353 652.5ZM1305 655L1308.3 650L1310.8 650.8L1309.2 656.7L1306.3 657.5ZM1316.7 663.3L1319.2 663.3L1319.2 665L1316.7 665ZM1307.5 677.5L1311.7 670.8L1314.7 670.8L1314.2 677.5L1310 678ZM1293.7 684.7L1295.8 684.7L1295.8 686L1293.7 686ZM1317 688.3L1318.7 689.2L1318 692.5L1317 691.7ZM1305 702.5L1308.3 700L1310.8 702.5L1309.2 705L1306.3 704.7ZM1303 705.8L1305 705.8L1305 708L1303 708ZM1312 697.5L1313.7 697.5L1313.7 699.7L1312 699.7ZM1366.7 685L1368 685L1368 686.7L1366.7 686.7ZM1385 668L1386.7 668L1386.7 669.7L1385 669.7ZM1352.5 770L1355.8 765.8L1360 765L1358.3 769.2L1354.7 773.3ZM1380 765.8L1383.3 762.5L1386.7 762.5L1388.7 767L1380.8 767.5ZM1370.8 779.2L1373.3 778L1378 778.3L1376.7 780.3L1371.7 780.8ZM1394.2 774.2L1395.8 774.2L1395.8 775.8L1394.2 775.8ZM1356.3 788.3L1358.3 786.3L1360.8 788.3L1358.7 790ZM1353 796L1354.7 796L1354.7 797.7L1353 797.7ZM1348 804.2L1350.8 804.2L1350.8 806.7L1348 806.7ZM1302 817.5L1304.2 815L1305.8 817.5L1304.2 820ZM1375.8 895.8L1380 890.8L1383 891.3L1385 896.7L1380 897.5ZM1289.2 952.5L1292.5 950.8L1296.3 953.3L1296.7 958.7L1294.2 959.7L1291.7 956.7ZM1315 953.3L1317 935L1318.7 935.8L1320.5 950.8L1319.2 959.2L1317.2 961.7L1315.3 958.3ZM1338.3 934.7L1340.8 933L1343 935L1340.8 937ZM1366.3 917L1368 915.8L1369.2 918L1367 918.7ZM1347.5 944.2L1350.8 942L1356.7 944.7L1363.3 950L1370.5 957.5L1368.3 961.7L1364.2 959.2L1358.3 953L1353.3 950L1348.3 948.3ZM1298 974.2L1300.8 972.8L1305 973.7L1304.2 975.8L1299.7 976.3ZM1284.7 982.5L1287 982.5L1287 983.7L1284.7 983.7ZM1298 995L1300.8 991.3L1306.7 991.3L1310 995L1308.3 1000L1303.3 1001.7L1299.2 999.2ZM1290 1001.3L1294.2 999.7L1298 1000.8L1294.2 1003ZM1284.2 1005L1285.8 1003.7L1288 1005.8L1286.2 1007ZM1289.2 1009.2L1290.8 1009.2L1290.8 1010.5L1289.2 1010.5ZM1298.7 1013.3L1300 1013.3L1300 1014.7L1298.7 1014.7ZM1293 1018L1295.3 1015.8L1298 1018.3L1295 1020.8ZM1315.3 968.3L1318.3 965L1323.3 965.8L1325.8 971.7L1326.7 978.3L1329.7 983.3L1330 991.7L1327.5 998.3L1328.3 1005L1328.3 1010L1324.2 1015L1320.8 1021.7L1319.7 1031.7L1315.8 1035.8L1312.5 1035.8L1310.8 1030L1310 1021.7L1311.7 1015L1310.8 1012.5L1314.2 1005.8L1314.2 996.7L1317.5 988.3L1319.2 980L1318.3 973.3ZM1334.2 1016.7L1335.8 1015L1336.7 1019.7L1335 1019.2ZM1333.2 1144.8L1336 1143.2L1339.2 1144.4L1344.8 1144L1349.2 1141.2L1353.6 1144.8L1359.2 1148L1364 1152L1366.4 1155.2L1368 1164.8L1372 1165.6L1374.4 1167.2L1373.6 1171.2L1369.6 1172.8L1366.4 1176.8L1365.6 1183.2L1368.8 1189.6L1374.4 1195.2L1376 1201.6L1380.8 1205.6L1384.8 1208.8L1384 1212.8L1390.4 1214.4L1394.4 1218.4L1398.4 1221.6L1399.2 1227.2L1404.8 1228L1407.2 1232L1412 1228.8L1412 1240L1392 1240L1390.4 1235.2L1384 1232.8L1383.2 1222.4L1380 1218.4L1372 1211.2L1362.4 1205.6L1355.2 1198.4L1348 1191.2L1344.8 1185.6L1341.2 1182.4L1340.8 1169.6L1337.6 1163.2L1333.6 1156ZM1383.2 1132L1386.4 1130.4L1391.2 1132L1396.8 1132.8L1396.8 1136L1395.2 1139.2L1392.8 1136L1388 1135.2L1384.8 1134.4ZM1399.2 1157.6L1404 1154L1406.4 1158.4L1407.2 1164L1410.8 1168L1409.6 1171.2L1405.6 1168L1402.4 1164.8L1400 1161.6ZM1409.2 1150.4L1412 1148L1412 1153.6L1410 1152ZM1406 1212.8L1408.4 1208L1410.8 1212L1410 1214.4L1406.8 1214.4ZM1374 1163.6L1376.8 1163.2L1381.6 1168.8L1382.4 1171.2L1375.6 1171.2ZM1389.2 1187.2L1391.2 1188L1391.2 1192L1389.6 1191.2ZM1391.7 1240L1412.5 1235L1412.5 1260L1406.7 1255L1400 1248.3L1395 1243.3ZM1359.2 1244.2L1362.5 1242L1365.8 1243.3L1363.3 1246.7L1360.8 1246.3ZM1382.5 1244.2L1385.8 1240.8L1389.7 1244.7L1386.3 1247.5ZM1263.3 1370L1266.7 1360L1271.7 1356.7L1275 1360.8L1273.3 1366.7L1269.2 1375L1265 1376.7ZM1310.3 1292.7L1313.3 1290.1L1315.5 1292.7L1315.9 1303.1L1316.8 1306.6L1312.5 1312.7L1311.6 1316.1L1314.6 1319.6L1312.9 1321.3L1308.1 1318.7L1304.7 1321.3L1302.1 1327.4L1298.6 1333.5L1294.3 1337.8L1291.7 1343L1288.6 1348.2L1290.8 1350.8L1294.3 1348.2L1299.5 1348.2L1303.4 1350.8L1302.5 1355.1L1299.5 1359.5L1298.6 1364.7L1300.3 1368.1L1303.8 1363.8L1308.1 1362.5L1311.6 1365.5L1312 1369.9L1310.3 1373.3L1306.4 1374.2L1302.9 1372.5L1303.4 1376.8L1308.1 1381.1L1310.7 1377.7L1314.2 1376.8L1318.5 1379.4L1322 1375.9L1324.6 1377.7L1325.5 1382L1322 1386.3L1321.6 1390.6L1290.4 1390.6L1290.8 1384.6L1287.3 1380.3L1283 1382L1280.4 1385.5L1278.7 1381.1L1278.7 1376.8L1282.1 1372.5L1281.3 1367.3L1281.7 1360.3L1281.3 1355.1L1278.2 1351.7L1283 1347.3L1283.9 1342.1L1290.8 1335.2L1291.7 1327.4L1296 1320.5L1296.4 1315.3L1299.5 1310.9L1304.7 1306.6L1310.3 1301.8ZM1319 1292.7L1321.1 1290.1L1324.6 1288.4L1322.9 1284.9L1326.3 1281.5L1329.4 1279.7L1329.8 1275L1332.4 1274.1L1334.1 1277.1L1333.7 1280.6L1330.7 1284.1L1328.9 1287.5L1328.9 1292.7L1326.3 1295.3L1322 1296.2L1319.4 1294.9ZM1332 1297.5L1335.9 1293.6L1340.2 1289.3L1342.8 1291.9L1343.2 1297.9L1346.3 1297.9L1349.7 1295.8L1351.9 1297.9L1352.8 1302.3L1348.9 1307.5L1348.4 1312.7L1345.4 1317.9L1343.7 1321.3L1344.1 1325.7L1347.6 1329.6L1346.3 1335.2L1343.7 1335.2L1341.9 1330.9L1340.6 1327.8L1335.9 1329.1L1334.6 1334.3L1334.6 1343.9L1332.4 1348.2L1334.1 1350.8L1332.4 1356.9L1326.3 1357.3L1328.1 1351.7L1328.9 1347.3L1327.6 1343L1327.2 1336.9L1322 1334.3L1316.8 1336.1L1313.3 1338.7L1308.1 1338.7L1309.4 1332.6L1313.3 1327.4L1316.8 1331.7L1322 1330.9L1325.5 1325.7L1320.3 1319.6L1322.9 1316.1L1322 1310.9L1326.3 1312.2L1331.5 1310.1L1335.9 1311.8L1336.7 1307.5L1335 1302.3ZM1357.1 1297.9L1360.1 1292.7L1364.5 1291L1367.9 1290.6L1370.5 1287.1L1374.9 1285.8L1378.8 1288.4L1377.5 1292.7L1374 1295.3L1367.9 1295.8L1363.2 1297.1L1360.6 1302.3L1357.5 1303.6ZM1361.9 1305.3L1364 1305.3L1364.9 1315.3L1362.7 1316.6L1361.4 1315.3ZM1394.8 1284.1L1399.1 1280.6L1404.3 1278.9L1412.1 1272.4L1412.1 1285.8L1406.9 1288.4L1399.1 1288.4ZM1369.2 1320L1372.7 1317.9L1377.5 1322.2L1381.8 1320.5L1385.3 1317.4L1395.6 1317L1400 1318.7L1397.4 1322.2L1393.1 1323.9L1386.1 1323.9L1381.8 1327.4L1381.8 1330.9L1384.4 1333.5L1381.8 1337.8L1376.6 1341.7L1373.1 1338.7L1373.1 1333.5L1369.7 1333.5L1366.2 1337.8L1366.2 1342.1L1363.6 1346.9L1361 1344.7L1359.7 1341.3L1361 1334.3L1363.6 1331.3L1367.9 1330.9L1373.1 1325.7ZM1408.6 1312.2L1412.1 1313.5L1412.1 1351.7L1409.5 1349.5L1407.8 1345.6L1410.4 1343L1405.2 1340.4L1398.2 1338.7L1392.2 1337.8L1394.8 1331.7L1395.6 1328.3L1399.1 1322.2L1401.7 1317.9ZM1367.9 1356.9L1370.5 1352.5L1378.3 1352.5L1381.8 1350.8L1385.3 1346.5L1394.8 1345.6L1403.4 1347.3L1405.2 1351.7L1402.6 1356L1397.4 1355.1L1393.1 1356.9L1391.3 1352.5L1387 1355.1L1383.5 1360.3L1381.8 1362.1L1376.6 1362.9L1371.8 1366.8L1368.8 1362.9ZM1378.3 1369.9L1380.9 1367.3L1384.4 1369L1385.3 1374.2L1381.8 1377.7L1379.2 1375.1ZM1387 1366.4L1391.3 1362.1L1398.2 1361.2L1402.6 1362.9L1412.1 1360.3L1412.1 1367.3L1405.2 1368.1L1401.7 1371.6L1402.6 1375.1L1408.6 1373.3L1412.1 1371.6L1412.1 1390.6L1396.5 1390.6L1399.1 1384.6L1399.1 1380.3L1395.6 1380.3L1391.3 1386.3L1389.6 1388.1L1387 1382L1386.1 1376.8L1387.9 1371.6ZM1367.9 1381.1L1371.8 1379L1376.6 1383.7L1380.9 1388.9L1380.9 1390.6L1372.3 1390.6L1371.4 1386.3ZM1367.9 1346.5L1371.8 1343.9L1374.9 1346.5L1371.8 1349.5ZM1361 1374.2L1363.2 1372L1364.9 1374.2L1363.2 1376.8ZM1350.2 1382L1353.6 1376.4L1356.7 1379.4L1357.5 1382.9L1354.5 1386.3L1351.5 1385ZM1341.9 1342.1L1345.4 1340L1350.6 1340.4L1355.8 1345.6L1360.1 1350.8L1362.3 1356.9L1362.7 1361.2L1360.1 1366.4L1356.7 1370.3L1353.2 1370.7L1350.6 1366.4L1348.9 1364.7L1348.4 1369L1346.3 1374.2L1341.9 1376.8L1337.6 1375.1L1339.3 1371.6L1341.1 1369L1339.3 1364.7L1341.9 1362.1L1346.3 1361.2L1347.1 1356.9L1346.3 1353.4L1349.7 1350.8L1347.1 1347.3L1343.7 1344.7ZM1339.3 1355.1L1341.9 1355.1L1341.9 1357.3L1339.3 1357.3ZM1317.2 1367.7L1322.9 1367.7L1322.9 1370.7L1317.2 1370.7ZM1273.9 1342.6L1276.9 1340L1280 1342.6L1276.9 1346.9ZM1328.1 1388.1L1330.7 1385.5L1335.9 1385L1339.3 1388.1L1343.7 1390.2L1349.7 1388.1L1361 1387.6L1365.3 1390.6L1328.1 1390.6ZM1339.3 1278.9L1340.6 1278.9L1340.6 1281L1339.3 1281Z"/>
<path class="c2" d="M873.3 363.3L878.3 358.3L890 355.8L905 348.3L923.3 346.7L927.5 349.2L922.5 353.3L911.7 355L898.3 356.7L893.3 361.7L886.7 362.5L881.7 360.8ZM693 395.8L700 395.8L709.2 388.3L716.7 385.8L723.3 384.2L720.8 388.3L715 396.7L710 403.3L705 410L698.3 408.3L693 407.5ZM720.8 391.7L727.5 391.3L730.8 394.2L724.2 400L720 397.5ZM729.7 419.7L732 417L735 418.3L736.2 421.7L733.7 423.3L730.8 422.5ZM708.3 423.3L716.7 421.7L723.3 425L730 428.3L740 427.5L743.3 421.7L746.7 418.3L753.3 422.5L761.7 426.7L771.7 427.5L776.7 430L779.2 435L788.3 438.3L796.7 442.5L806.7 448.3L812.5 452.5L810 456.7L803.3 456.7L798.3 460.8L794.2 465L791.7 471.7L787.5 470L781.7 464.2L773.3 460L765 456.7L756.7 453.3L748.3 448.3L745 444.2L740 440L731.7 436.7L723.3 437.5L716.7 435L711.7 430.8L710.8 426.7ZM831.7 465L840 466.7L848.3 465L854.2 462.5L858.3 464.2L855 466.7L850 469.2L846.7 472.5L840 470L833.3 469.2ZM875 450.8L880 450.8L886.7 456.7L892.5 463.3L890 470L886.7 476.7L881.7 481.7L875 484.2L870.8 481.7L875 477.5L880 472.5L881.7 466.7L878.3 460L874.2 455ZM898.3 466.7L905 466.7L906.7 470.8L900.8 472.5L897.5 470ZM963.3 504.2L970 500L974.2 500.8L974.2 505L970 507L965 506.7ZM754.2 635L771.7 636.7L776.7 648.3L783.3 655L790 665L765 665L760 655L756.7 645ZM720.4 567.8L725.2 567L730 572.6L734.8 574.2L741.2 575.8L746 571L752.4 573.4L757.2 578.2L758 595L761.2 601.4L762 615L764.4 627L766.8 635L754 635L753.2 619L752.4 607L746 606.2L739.6 606.2L736.4 603L737.2 591.8L734.8 585.4L730.8 579L726.8 574.2L722 571ZM704.4 607L707.6 609.4L710 619L707.6 628.6L703.6 627L702.8 615ZM711.6 590.2L717.2 588.6L720.4 591.8L718.8 596.6L714.8 595.8ZM871.2 750L873.9 749.5L875.5 754.3L873.4 756.4L871.8 753.8ZM865.9 736.2L870.2 735.6L870.7 738.3L867.5 739.4ZM752 640L782 640L789 653L795 664L801 671L809 681L815 691L813 697L811 704L811.5 730L809.5 736L805 736L803 730L802.5 700L801 684L794 689L792 700L792 710L788.5 709L786 704L784 728L779 736L777 736L776 718L774 708L772 701L776 692L775 683L771 675L771 668L766 667L762 660L758 652L754 645ZM693 690L696 694L700 700L705.5 696L707.5 690L710 688L712.2 690.5L712 698L708 703L706 707L714 705L717.5 709L717 719L712.5 724L710 729L705 732L699 738L698 749L695.5 752L693 751ZM715 727L719 726L721.5 730L720 735L717 738L716 749L713.5 752L711.5 749L711.5 739L714 733ZM703 760L708 757L706 766L705 774L700 780L699 788L696 788L698 777L702 771ZM699.2 1078.3L701.3 1077L701.7 1080.8L699.7 1082ZM720 1135L724.2 1133.3L725 1137.5L721.7 1139.2ZM730 1135.8L733.7 1135.8L732.5 1140.8L730.8 1140ZM693 1155.8L697.5 1155L700.8 1161.7L700 1165L693 1165ZM696.7 1211.7L700.8 1208.3L704.2 1213.3L710.8 1210.8L715.8 1208.3L719.2 1211.7L720 1215L713.3 1214.2L706.7 1218.3L701.7 1220.8L699.2 1216.7ZM720 1252.5L722.5 1249.2L724.7 1252.5L724.2 1258.3L722.5 1260ZM738.3 1261.7L743.3 1257.5L747.5 1255.8L750.8 1259.2L754.2 1261.7L749.2 1266.7L743.3 1270.8L740.8 1268.3ZM725.3 1322.5L728.7 1316.7L733.7 1312.5L735.3 1313.7L731.7 1319.2L728 1325.8ZM714.2 1333.3L718 1329.2L721.3 1331.7L722.5 1336.7L719.2 1335.8L716.3 1335.3ZM705 1353.3L710 1352.5L715 1356.7L715 1361.7L710.8 1365L706.7 1361.7ZM702 1171.8L703.5 1173.8L705.8 1175L710 1172.7L714.3 1174.7L715.8 1171.5L714 1166.5L708.7 1166.5L705.2 1168.7ZM694.5 1177.2L694.5 1188L697.2 1184.7L696.2 1178.3ZM726.3 1181.7L728.3 1183.7L729.8 1181.8L728 1180ZM760.8 1180.8L761.2 1182L762.8 1182.5L765.3 1180L767 1174.5L767.8 1173.5L769.2 1173.7L772 1175.8L776.3 1174.3L782.3 1173.7L782.8 1172.5L777.5 1170.5L772.8 1166.5L769.3 1166.5L767.2 1172.5L762.8 1176ZM771.5 1204.7L772 1208.7L772.8 1210L773.7 1209.3L774.2 1204.7L772.7 1203.2ZM773 1218.7L773.3 1220.5L773.3 1220.5L774.2 1218.5L773.5 1217.7ZM757.7 1221.7L759.8 1223.5L763.7 1223.8L765.7 1222L763.5 1219.8L759.7 1219.8ZM767.2 1240L768.5 1241.2L771.5 1239.7L773.3 1236.5L772.7 1234ZM730.8 1218.8L732.3 1226.8L730.5 1234L726.2 1239.7L728.2 1241.3L732 1236.8L733.5 1231.5L732.7 1223.8L735.5 1219.2L740.7 1215.5L745.3 1210L747.5 1204.7L751.7 1201.8L755.3 1204.8L757.3 1203.8L760 1200.2L757.8 1198.2L752 1198.2L746.2 1201L744.7 1205.7L741.2 1211ZM743.7 1234.5L744.7 1237.5L748.2 1240.3L752.2 1241L755.5 1239L756.7 1235.2L754.7 1231L750.7 1227.7L746.8 1230.3ZM707.5 1245.3L708 1247.3L709.5 1248L711.2 1245.2L709.2 1243.2ZM694.5 1248.3L694.5 1259.3L697 1253.3L695.3 1249.2ZM725.5 1266L728 1268.7L729.7 1266.7L727.3 1264.5ZM703.7 1280.2L704.5 1281.5L711.3 1274.3L712.7 1274.8L714.7 1277.7L714.7 1278.8L712.2 1284.2L707.3 1288.5L708.8 1290.7L711.5 1289.7L713.8 1285.7L720.3 1280L717.7 1277L719.3 1271.7L717.8 1265.7L714.7 1261.3L712.5 1263.2L713 1269L709.5 1274.3ZM771.7 1276L773.3 1280.7L773.7 1280.5L774.3 1276.2L772.8 1273.8ZM735.8 1285.2L736.8 1287.8L737.5 1285.3L736.7 1284.2ZM738.7 1289.8L739.7 1291.2L739.7 1292.2L735.3 1297.5L732.7 1302.2L734.3 1304L737.2 1302.3L739 1298L744.8 1296.2L747.2 1292.3L751 1288.5L751.8 1281.2L754.5 1277.7L755.5 1275L753.5 1274.2L749.7 1276.8L747.8 1282.7L742.5 1288.7ZM694.5 1293L694.5 1296L695.8 1292.7ZM711.8 1302.3L714 1304.2L716 1302L714.2 1300.2ZM775.8 1294.5L776.8 1297.7L778.2 1297.7L779.2 1294.5L777.5 1292.3ZM758.3 1307L759.7 1308.2L761 1307L759.7 1305.5ZM754 1319.8L755 1321L756 1320.2L754.7 1318.8ZM735.2 1325.2L736.5 1326.5L738 1325L736.7 1323.5ZM780.7 1338L781.7 1340L783.2 1334.8L782.7 1327.8L782 1326.5L781.5 1327.8ZM694.5 1332.5L694.5 1337.7L697 1340L700.7 1338.8L702.8 1335L700.7 1332.2L696.8 1330.8ZM694.5 1345L694.5 1352.7L694.8 1353L696.7 1351.2L695.3 1345.8ZM749.2 1356L750.5 1357.5L753.8 1356.3L755.3 1352.8L754 1351.3ZM771 1355.2L772.8 1357.8L775.7 1355.7L779.5 1350.7L778.5 1348.5L775.8 1349.7ZM730.5 1370.3L732 1372.5L733.5 1370.3L732 1368.3ZM758.3 1383.3L760 1384.8L770 1374.2L768.3 1372.5ZM734.7 1383L736.7 1385L738.7 1383L736.7 1381ZM722.8 1389.3L729.2 1389.3L728.7 1386L726.3 1384.5ZM697.5 1374.5L698.5 1379.2L699.7 1378.5L700.7 1378.7L705.5 1382.8L711.7 1374.7L710.7 1372.5L704.3 1373L701.7 1369.8ZM694.5 1383L694.5 1389.3L698 1389.3L696.2 1384.3ZM1033 399.2L1037.5 396.7L1042.5 398.3L1039.2 401.7L1035.8 405L1033 402.5ZM1032.5 599.2L1035.8 595.8L1043.3 595.8L1044.2 600.8L1040 603L1035 602.5ZM1030.9 423L1036.2 417.7L1043.3 415.9L1046.9 418.6L1046.9 423L1042.4 427.4L1037.1 431.9L1033.6 429.2ZM1056.7 424.8L1060.2 420.3L1066.4 426.6L1062 434.6L1058.4 440.8L1052.2 443.4L1054 436.3L1056.7 431ZM1031.8 448.8L1036.2 449.7L1041.6 446.1L1046 447L1046.9 454.1L1043.3 457.7L1038 458.6L1034.4 455.9ZM1071.8 435.4L1075.3 439L1072.7 444.3L1066.4 449.7L1060.2 455L1055.8 460.3L1053.1 468.3L1050.4 475.4L1045.1 480.8L1041.6 480.8L1044.2 473.7L1045.1 464.8L1050.4 458.6L1056.7 452.3L1062.9 446.1L1067.3 440.8ZM1010.4 439L1014 436.8L1018.4 440.8L1023.8 443.4L1024.7 447L1020.2 449.2L1015.8 447.9L1011.3 443.4ZM1002.4 447.9L1005.1 446.1L1007.8 447.9L1006.9 451.4L1003.3 451.4ZM1014.9 463L1019.3 460.3L1024.7 459.4L1025.1 465.7L1022 468.3L1016.7 467.4ZM990 463L994.4 463L997.1 466.6L996.2 471L992.7 471.9L990 470.1ZM1005.6 476.3L1008.7 474.6L1014 481.7L1015.3 490.6L1012.2 491.4L1009.1 486.1ZM998 494.1L1001.6 492.3L1006 495L1004.7 499.4L999.8 498.6ZM1075.3 454.1L1082.4 450.6L1090.4 447L1094.9 452.3L1101.1 454.1L1108.2 456.8L1109.1 463L1116.2 459.4L1125.1 467.4L1118 472.8L1112.7 477.2L1105.6 479.9L1099.3 479L1092.2 473.7L1084.2 470.1L1081.6 464.8L1077.1 459.4ZM1255.8 842.5L1259.2 838.3L1263.3 835L1265 836.7L1260 842.5L1257.5 845ZM1152.5 1038.3L1155.8 1034.2L1160 1032.5L1161.7 1035.8L1156.7 1039.2ZM1171.3 1062.5L1173.3 1060.8L1176.3 1062.5L1176.7 1065L1173.3 1065ZM1319.2 981.7L1322.5 979.2L1325.8 985L1326.7 993.3L1324.2 1000L1320 1001.7L1318.3 995L1319.2 988.3ZM1314.2 1011.7L1318.3 1008.3L1320.8 1013.3L1317.5 1017.5L1314.2 1015.8ZM1337.6 1155.2L1341.6 1151.2L1348 1149.6L1354.4 1148.8L1360.8 1152L1364.8 1155.2L1366.4 1164.8L1368 1168L1364 1176L1364 1183.2L1367.2 1190.4L1370.4 1196L1369.6 1201.6L1365.6 1200.8L1360.8 1196.8L1354.4 1192L1349.6 1185.6L1345.6 1180.8L1344.8 1171.2L1343.2 1164.8ZM1383.2 1218.4L1386.4 1216L1391.2 1216.8L1396 1220.8L1398.4 1226.4L1403.2 1228L1407.2 1233.6L1406.4 1240L1394.4 1240L1392 1233.6L1385.6 1231.2L1384.8 1224ZM1395 1240L1412.5 1238.3L1412.5 1255L1405 1250L1398.3 1243.3ZM1298.6 1317L1302.9 1311.8L1309 1305.7L1313.3 1303.1L1311.6 1310.1L1307.3 1315.3L1302.9 1320.5L1299.5 1327.4L1295.1 1334.3L1293.4 1330.9L1296 1323.9ZM1283 1351.7L1287.3 1349.1L1289.9 1352.5L1295.1 1350.8L1299.5 1351.7L1297.7 1358.6L1296.9 1365.5L1299.5 1370.7L1302.1 1367.3L1307.3 1364.7L1309.9 1368.1L1307.3 1372.5L1302.1 1371.6L1302.9 1377.7L1308.1 1382.9L1312.5 1378.5L1318.5 1381.1L1322.9 1378.5L1322 1384.6L1319.4 1390.6L1292.5 1390.6L1293.4 1384.6L1287.3 1377.7L1283.9 1371.6L1284.3 1360.3ZM1334.1 1297.9L1338.5 1294.5L1341.1 1299.7L1345.4 1300.5L1349.7 1299.7L1349.7 1303.1L1346.3 1307.5L1346.3 1313.5L1342.8 1318.7L1341.1 1324.8L1336.7 1325.7L1332.4 1329.1L1332.4 1343L1329.8 1343L1329.8 1336.1L1325.5 1332.6L1320.3 1333.5L1315.1 1335.2L1313.3 1332.6L1316.8 1333.5L1323.7 1331.7L1328.1 1325.7L1323.7 1320.5L1325.5 1316.1L1330.7 1315.3L1335.9 1316.1L1339.3 1310.1L1338.5 1303.1ZM1400 1283.6L1405.2 1281L1412.1 1277.1L1412.1 1284.5L1406 1286.7L1400.8 1286.2ZM1400 1323.9L1405.2 1318.7L1410.4 1317L1408.6 1323.9L1405.2 1329.1L1408.6 1334.3L1412.1 1336.1L1412.1 1343L1406.9 1339.5L1400 1336.9L1396.5 1334.3L1398.2 1329.1ZM1370.5 1356.9L1376.6 1355.1L1382.7 1352.5L1387 1348.2L1393.9 1347.3L1394.8 1350.8L1390.5 1351.7L1385.3 1355.1L1380.9 1360.3L1375.7 1361.6L1371.8 1362.1ZM1389.6 1368.1L1393.9 1364.7L1400 1364.7L1398.2 1369L1394.8 1373.3L1393.1 1379.4L1389.6 1381.1L1388.7 1374.2ZM1403.4 1376.8L1410.4 1375.1L1412.1 1377.7L1412.1 1390.6L1400 1390.6L1401.7 1384.6ZM1348 1343L1352.3 1344.7L1356.7 1349.9L1359.3 1356.9L1359.3 1362.1L1355.8 1367.3L1353.2 1366.4L1353.2 1360.3L1350.6 1358.6L1348 1361.2L1345.4 1365.5L1345.4 1370.7L1341.9 1373.3L1342.8 1368.1L1343.7 1362.9L1348 1358.6L1348.9 1353.4L1352.3 1350.8L1350.6 1347.3Z"/>
<path class="c3" d="M910.3 349.2L914.2 346.7L923.3 346.7L925.8 349.2L921.7 352.5L913.3 353ZM700 401.3L705.8 400.8L705.8 402.5L700 403ZM745 431.7L751.7 430.8L758.8 438.3L763.3 442.5L773.3 440L778.8 437.2L784.5 438.3L787.8 442.2L795.5 446.2L801.2 447.8L803.8 451.7L798.3 452.8L792.8 452.8L790 455.5L791.7 463.3L787.8 463.8L781.2 462.2L777.8 458.8L771.2 452.8L763.8 451.2L759.5 453.3L756.7 448.3L750 440L745 436.7ZM713.3 425L723.3 426.7L733.3 430.8L741.7 430L745 431.7L740 435L731.7 434.2L723.3 433.3L716.7 430.8ZM878.3 454.2L883.3 456.7L888.3 463.3L886.7 470L883.3 475.8L878.3 480L873.3 481.7L878.3 475.8L882.5 470L883.3 465L880 459.2ZM966.7 504.2L971.7 501.7L973.3 504.2L970 506.3ZM760.8 630L765 630L768.3 638.3L771.7 646.7L768.3 648.3L764.2 640ZM780.8 659.2L788.3 660L790.8 665L780.8 665ZM731.6 576.6L735.6 575.8L739.6 579L741.2 583L738 587L738.8 595L737.2 603L734.8 599.8L735.6 591.8L734 585.4ZM746 575L752.4 574.2L756.4 578.2L755.6 583L750.8 581.4L747.6 578.2ZM754 590.2L756.4 589.4L756.4 595L754 595.8ZM756.4 607.8L759.6 607L760.4 615L761.2 627L764.4 635L761.2 635L758.8 627L757.2 617.4ZM766 640L770 640L773 646L775 652L772.5 653L770 648L767 644ZM781 660L786 659L790 665L796 670L799 674L798.5 683L794 687L790 692L786 696L783 700L780 699L781 694L777 690L775 683L772 674L773 669L777 670L780 673L784 670L782 665ZM802 682L808 683L811.5 690L809 696L804 694L802 688ZM693 694L696 698L699 704L702.5 701L705 699L708 692L710.5 691L710.5 697L706 704L704 708L710 707L715 709L715.5 718L711.5 722L708 727L703 730L698 735L696 746L693 748ZM717 729L719.5 730L718.5 734L716.8 733ZM712.5 736L714.5 736L714.5 750L712.8 750ZM716.3 1333.3L718.3 1331.3L720.3 1333.3L718.7 1335.3ZM693 1332.5L697.5 1331.7L701.7 1335L698.3 1339.2L693 1337.5ZM708.3 1356.7L713.3 1357.5L712.5 1362.5L708.7 1361.7ZM700 1375L705 1374.2L709.2 1375.8L705.8 1381.7L701.7 1378.3ZM693 1381.7L696.7 1385L698.3 1390.8L693 1390.8ZM1034.9 426.6L1037.1 424.8L1038 428.3L1036.7 431.4L1035.3 430.1ZM1038.4 452.3L1040.7 450.1L1043.3 451.4L1043.3 455L1039.8 455.9ZM1043.8 467.4L1046.9 465.7L1047.8 470.1L1045.6 473.7L1043.8 471.9ZM1049.1 459.4L1051.8 458.6L1051.8 463L1049.6 463.9ZM1066.9 442.1L1068.7 441.7L1069.1 443.4L1067.3 443.9ZM1012.2 438.3L1014.4 437.7L1015.3 440.3L1013.1 440.8ZM1015.8 442.6L1019.3 441.7L1022.9 445.2L1021.1 447.9L1017.6 447ZM1078 459.4L1080.7 457.7L1086 460.3L1090.4 458.6L1093.1 463L1092.2 468.3L1089.6 471L1084.2 468.3L1081.6 463.9ZM1105.6 471.9L1109.1 468.3L1112.7 463.9L1118 467.4L1114.4 471.9L1109.1 474.6ZM1346 1158.4L1348 1154.4L1354.4 1153.6L1360.8 1154.4L1364 1157.6L1364.8 1164.8L1363.2 1171.2L1360.8 1177.6L1359.2 1183.2L1355.2 1184.8L1351.2 1182.4L1348 1176L1347.2 1168ZM1396 1233.6L1399.2 1231.2L1401.6 1235.2L1400 1240L1396.8 1240ZM1401.7 1238.3L1406.7 1240L1410 1246.7L1409.2 1251.7L1404.2 1248.3ZM1289.1 1363.8L1291.7 1363.8L1291.7 1366.4L1289.1 1366.4ZM1293.4 1368.1L1296 1368.1L1296 1372.5L1293.4 1372.5ZM1311.6 1381.1L1315.1 1381.1L1315.1 1384.6L1311.6 1384.6ZM1315.9 1386.3L1318.5 1386.3L1318.5 1388.9L1315.9 1388.9ZM1299.5 1318.7L1300.8 1318.7L1300.8 1322.2L1299.5 1322.2ZM1407.3 1278.9L1410.4 1278.9L1410.4 1281.9L1407.3 1281.9ZM1402.6 1320.5L1406 1320.5L1406 1327.4L1402.6 1327.4ZM1398.2 1331.7L1401.7 1331.7L1401.7 1337.8L1398.2 1337.8ZM1406 1331.7L1409.5 1331.7L1409.5 1336.1L1406 1336.1ZM1374 1357.7L1378.3 1357.7L1378.3 1361.2L1374 1361.2ZM1387.9 1348.2L1393.1 1348.2L1393.1 1352.5L1387.9 1352.5Z"/>
<path class="c4" d="M917 349.7L918.7 348L920.3 349.7ZM773 447.8L776.2 443.8L780 442L783.8 442.2L787 446.2L787 451.2L785.8 458.3L783.3 461.2L781.2 460.3L778.3 456.7L774.2 452.2L773.8 448.8ZM712.2 714.5L713.5 713L715 715.5L713.5 717ZM717.7 1333.3L718.5 1332.5L719.3 1333.5L718.5 1334.5ZM1348 1163.2L1349.6 1160L1354.4 1162.4L1357.2 1166.4L1357.6 1171.2L1356 1175.2L1354.4 1177.6L1352.8 1175.2L1352 1170.4L1350.4 1167.2Z"/>
<path class="c5" d="M777 447.8L778.8 446.2L782.8 446.2L784.2 448.3L784.2 453.8L782.8 457.8L781.2 457.8L778.8 453.3L777.2 449.5Z"/>
<path class="c2" d="M776.5 670.5L779.5 671.5L780.5 674.5L778 675ZM780 684L783.5 684.5L784 689L780.5 688.5ZM786 680L794 679.5L794 682.5L786.5 683ZM703 717L706 717.5L706.5 723.5L703.5 724Z"/>
<path class="c0" d="M740.4 583.8L742.8 584.6L746 588.6L748.4 591.8L747.6 598.2L745.2 603L742.8 604.6L742.8 598.2L742 591.8ZM725.2 599.8L729.2 596.6L732.4 601.4L728.4 604.6ZM776 694.5L778 694L777.5 698.5L776 699ZM699.5 699L701 699L701 705L699.5 705ZM712.5 727L714 727L714 732L712.5 732ZM749.2 1234.2L751 1234.2L751 1236.2L749.2 1236.2ZM744.8 1263.3L746.3 1263.3L746.3 1267.5L744.8 1267.5ZM1098.9 451L1102.9 451L1102.4 452.8L1099.8 452.8ZM1105.6 451L1110.9 451L1110.4 454.1L1107.3 453.7ZM1110 442.6L1114.4 442.1L1114.9 444.3L1110.4 444.3ZM1098.9 458.6L1101.1 458.6L1101.1 460.3L1098.9 460.3ZM1094.2 977.5L1096.7 977L1098 985L1101.3 990.8L1099.2 993L1095 985.8ZM1329.8 1323.9L1331.1 1323.9L1331.1 1325.2L1329.8 1325.2ZM1406.9 1325.7L1412.1 1322.2L1412.1 1330.9L1408.6 1329.1ZM1353.2 1355.6L1355.4 1355.6L1355.4 1357.3L1353.2 1357.3Z"/>

<path class="b" d="M693.3 257.5L700 256.7L702.5 260L705.8 261.7L708.3 260L715 261.3L720.8 263.3L720.8 265.8L715.8 269.2L715 271.7L719.2 272.5L724.2 271.7L729.2 273.3L736.7 275L743.3 278.3L748.3 278.3L754.2 273L760 271.7L763.3 274.2L770 277L776.7 278.3L780.5 280L780 284.2L785.8 287.5L790.8 288.3L792.5 291.7L796.7 291.7L799.2 290L804.2 289.2L809.2 285.8L813.3 284.2L815.8 288.3L818.3 285.8L820 286.7L822.5 284.7L824.2 286.3L830.8 285L836.7 282.5L840.8 279.2L840 275.8L835.8 273.3L835.8 270.8L839.2 267.5L843.3 265.5L845 265.8L850 262.5L855 260.3L861.7 258.3L867.5 256.7L867.5 254.2L865.8 252L870.8 247.5L873.3 242.5L880 239.2L886.7 238.3L895 237.5L902.5 237L907.5 238.3L910.3 234.2L911.3 229.2L920 225.8L926.7 223.7L930.8 219.7L927.5 215.8L926.7 213.3L930 210L936.7 208.7L940.8 208L944.2 203.7L947.5 203L951.7 205L954.7 208.3L954.2 210.8L963.3 212L971.7 213.3L980 217L990 218.7M780 284.2L775 285L778 288.3L777.5 293.3L775.8 296.7L776.3 300.8L779.2 305L785 307L793.3 306.7L800 307L802.5 310.8L804.7 316.3L800.8 321.7L799.2 326.7L801.7 330L804.2 332.5L804.7 336.7L802.5 340L798.3 341.3L795 339.2L793 343.3L790 340L785.8 341.7L780 343.7L773.3 344.2L770 340L765.8 339.7L762.5 344.2L759.2 345.3L754.2 343.7L748.3 343.7L743.3 345L735 345.5L726.7 345.8L720 345L714.2 342L708.3 338.3L705 339.2L701.7 340.8L697.5 342L695 345.8L693 347.5M990 349.2L983.3 350.8L976.7 352.5L973.3 356.7L970 362.5L970.8 368.3L970 373.3L972.5 377.5L972.5 381.7L975.8 385.3L971.7 390L967.5 393.3L968.3 400L965 405L960 410.8L955.8 415M956.7 415L950 417.5L945 422.5L942 430.8L944.2 434.2L950 436.7L951.3 441.7L948.3 448.3L945 458.3L940 462.5L935 470L930 478.3L926.7 486.7L923.3 495L920.8 503.3L918.3 509.2L913.3 505.8L905 503.3L898.3 502.5L893.3 500.3L885.8 501.7L880.8 502L877.5 497.5L874.2 496.2L872.5 499.2L875 505.8L877.5 513.3L879.7 519.2L878.3 531.7L876.7 543.3L874.2 550L870 555L865 554.2L863.7 558.3L865 562.5L861.7 568.3L859.7 572.5L860.8 577.5L860.3 583.3L864.2 588.3L864.2 594.2L865 597.5L861.7 600.8L857.5 600.8L855 608.3L852.5 612.5L849.2 614.2L846.7 610L842.5 606.7L838.3 604.2L835 606.7L833.7 612.5L831.3 614.2M693 431.7L700 433.7L708.3 435.8L718.3 435L728.3 435.3L738.3 434.7L748.3 433.3L756.7 433L765 435L773.3 436.3L780 435.8L788.3 434.7L796.7 434.2L805 435L811.7 438.3L818.3 441.7L823.3 445L827.5 449.2L825.8 452.5L820 452L813.3 450L812.5 455L810.8 461.7L808.3 468.3L805.8 475.8L800 479.2L797.5 482.5L794.7 481.7L793.3 486.7L790.8 491.7L787.5 488.3L785 487.5L782.5 492.5L780 488.3L778.3 488.3L776.7 493.3L771.7 495.3L764.2 495.8L761.7 500.8L756.7 502.5L755.8 511.7L750.8 515.8L753.3 518.3L751.7 521.7L754.2 526.7L756.7 531.7L759.2 537.5L760 543.3L762.5 550L764.7 552.5L764.2 545L766.7 542.5L770 546.7L772.5 554.2L775.8 558.3L782.5 556.7L786.7 553.3L788.3 550L785.8 546.7L785.3 541.7L787.5 535L791.7 531.7L795.8 530L797.5 525L795.8 520L795 515.8L798.3 517.5L800.8 520.8L805 517.5L807.5 515L810 519.2L812.5 515.8L814.7 517.5L815 525L818.3 535L820 541.7L819.2 550L821.7 561.7L824.2 565L827.5 572.5L828.7 583.3L830.8 591.7L832.5 601.7L830 606.7L831.3 614.2L833.3 620L832.5 630L833.3 640L835.8 650L832.5 654.2L830 651.7L828.3 647.5L821.7 645.8L819.2 642L814.2 644.2L810.8 648.3L810 655L812.5 660.8L815 665M793.7 630L795.3 635.8L796.7 640.8L799.2 648.3L802.5 656.7L806.7 665M701.6 529.8L710.8 533.8L717.2 536.2L721.6 537.4L722.8 533.4L721.6 528.6L720.4 524.6L714.8 523.4L718.8 523L722.8 522.2L721.6 524.6L724.4 526.2L727.6 525.4L728 527.8L725.2 529L722.8 529.8L723.6 535L724.4 539L723.6 543.8L722.8 548.6L725.2 553.4L727.6 558.2L730 563L732.4 567.8L735.6 572.6L738.8 576.6L742 579L746 578.2L745.2 575L744.4 573.8L746.8 575.8L748.4 579.8L750.8 582.2L754 581.4L756.4 579L758 576.6L758.4 574.2L755.6 573.4L754 572.2L757.2 571.8L760.4 570.2L764.4 568.6L768 567L770 563.8L771.2 561M701.6 529.8L710 535.8L716.4 538.2L721.6 537.4M706 532.2L714 536.6L721.2 536.6M768.8 567.8L773.2 571L777.2 575.8L781.2 581.4L784.4 587L786.8 591.8L788 594.2L791.6 591.8L794 588.2L792.4 591.8L790 595L788.4 596.6L790 599.8L791.6 603.8L793.2 609.4L794 615L790.8 618.2L791.6 623L794 627L795.6 631L797.2 635M794 618.2L797.2 619L799.6 623.8L801.2 628.6L802 633.4L800.4 635M793.2 619L796.4 625.4L798 630.2L799.2 635M767.2 581.4L769.2 579.4L771.6 580.2L774.4 583.8L775.6 587.4L774 589.8L770.8 589L768.4 586.2L767.2 581.4M712.4 564.6L714 563L717.2 563L719.6 566.2L718.8 571L719.6 575.8L722 579.8L724.4 584.6L725.2 590.2L724.4 595L722 599.8L718.8 603.8L715.6 606.2L714 609.4L711.6 612.6L710 611L712.4 607L715.6 602.2L719.6 598.2L722 593.4L722.4 588.6L721.2 583.8L718 579L716.4 574.2L715.6 569.4L712.4 567.8L709.2 570.2L708.4 568.6L712.4 564.6M713.2 552.6L716.4 550.2L720.4 551L723.6 555L722 558.2L718 556.6L714.8 555.8L713.2 552.6M716.4 555L719.6 554.2L722 556.6M712.4 583.8L713.2 580.6L715.6 579L718 580.6L716.8 582.2L714.4 582.2L713.2 584.6M722 566.2L725.2 566.2L727.6 571L730 576.6L731.6 581.4L734.8 587L736.4 591.8L735.6 597.4L734.4 603L731.6 606.2L727.6 608.6L724.4 611L722 610.2L725.2 607L729.2 603.8L732.4 599.8L733.6 594.2L733.2 589.4L730.8 584.6L728.4 579L726 574.2L722.8 570.2L722 566.2M742 591.8L743.6 592.2L743.2 598.2L741.2 603.8L739.6 603.8L740.4 598.2L742 591.8M742.4 593L741.6 598.2L740.4 603M749.2 590.2L752.4 591L754.4 595L754 599.8L750.8 604.6L746.8 606.6L743.6 605.4L746 603L748.4 599L749.6 594.2L749.2 590.2M750 585.4L753.2 583.8L755.6 584.6L754 586.6L751.2 587L750 585.4M693.2 609.4L695.6 605.4L698.8 603L701.2 600.6L700.4 603.8L698 607L694.8 610.2L693.6 614.2L694.8 619L698 622.2L701.2 620.6L703.6 617.4L705.2 613.4L707.2 609.4L709.2 605.4L710.4 599.8L710 595.8L709.2 601.4L706 608.6L704.4 613.4M705.2 619L708.4 611M706 619.8L709.2 611.8M706.8 620.6L710.8 613.4L714 610.2M715.6 619.8L718.8 616.6L722 614.2M716.4 615.8L718 613.4M713.2 608.6L717.2 607L720.4 604.6M717.2 611L720.4 609.4L724.4 607.8M806.7 665L810 668.3L814.2 675L818.3 681.7L823.3 686.7L828.3 691.7L833.3 696.7L838.3 702.5L840.8 708.3L845 713.3L850 715.8L854.2 710L856.7 701.7L860 693.3L858.3 700L861.7 700.8L858.3 706.7L858.3 712.5L861.7 713.3L858.3 716.7L863.3 720L868.3 719.2L873.3 718.3L878.3 720.8L883.3 725L890 728.3L896.7 727.5L896.7 730.8L891.7 731.7L888.3 735L893.3 738.3L900.8 738.3L901.7 741.7L897.5 743.3L900 747.5L906.7 751.7L910.8 755.8L910 763.3L914.2 758.3L915 765L913.3 771.7L915.8 775L913.3 781.7L916.7 788.3L920.8 788.3L921.7 793.3L926.7 794.2L923.3 796.7L925.8 803.3L926.7 808.3L930.8 813.3L934.2 817.5L930 820.8L935 822.5L936.7 829.2L939.2 833.3L936.7 835.8L939.2 841.7L940 848.3L942.5 853.3L945.8 860.8L943.3 865L944.2 873.3L941.7 876.7L940 881.7L936.7 883.3L937.5 888.3L935 895.8M813.3 665L815.8 670.8L818.3 676.7L820 681.7M835 685L840 690L842.5 695.8L840.8 700.8L845.8 697.5L850 705L854.2 710M851.3 720.8L855.8 733.3L857 732.5L852.5 720.3L851.3 720.8M862.2 723L867.7 733.7L869 733L863.3 722.5L862.2 723M878.3 728.3L883.3 727.5L884.2 731.7L881.7 736.7L879.2 733.3L878.3 728.3M892.5 751.7L898.3 749.2L905 751.7L906.7 755.8L903.3 761.7L898.3 765L895 761.7L897.5 757.5L894.2 755L892.5 751.7M882.5 758.3L885.8 755.8L890 757.5L892.5 763.3L898.3 766.7L905 765L910 761.7L910.8 771.7L909.2 780L905.8 786.7L900.8 783.3L895.8 776.7L890 769.2L885 764.2L882.5 758.3M882.5 786.7L890 785L896.7 787.5L897.5 794.2L894.2 798.3L890 796.7L885.8 791.7L882.5 786.7M854.2 1083.3L858.3 1084.2L859.7 1090L860.3 1094.2L857.5 1095.8L860 1100L859.2 1106.7L856.7 1111.7L852.5 1114.2L850.8 1117.5L854.2 1121.7L855 1130L854.2 1138.3L855 1143.3L851.7 1147.5L848.3 1148.3L850 1153.3L847.5 1160L845.8 1165M854.2 1083.3L850 1087.5L847.5 1095.8L846.7 1105L845 1113.3L842.5 1120L840.8 1126.7L841.7 1133.3L839.2 1140L839.2 1148.3L840 1155L843.3 1157.5L840 1160L836.7 1160.8L835 1165M839.2 1115.8L840.8 1119.2L839.2 1125.8L837.2 1125L837.5 1119.2L839.2 1115.8M893.7 1010.8L895 1008.3L896.3 1009.2L895 1011.3L893.7 1010.8M876.3 1050.3L877.7 1050.8L877.8 1055L876.7 1055.3L876.3 1050.3M854.7 1077.5L856.7 1076.7L858.7 1078L856.7 1078.7L854.7 1077.5M925.3 1090.8L927 1090.3L928 1091.3L926.3 1091.7L925.3 1090.8M902.5 1155.5L903.7 1155L904.3 1156.2L903.2 1156.7L902.5 1155.5M858.8 1160L860.3 1159.7L861.2 1163.3L859.7 1163.7L858.8 1160M835 1165L833.3 1171.7L830 1175L829.2 1180L831.7 1185L833.3 1190L836.7 1193.3L835.8 1198.3L833.3 1204.2L835 1206.7L838.3 1205L839.2 1200L840 1195L841.7 1191.7L842.5 1185L844.2 1180L845 1173.3L842.5 1170L844.2 1165M840 1165L840.8 1171.7L840 1178.3L841.7 1183.3L840 1188.3L837.5 1192.5M852.5 1170.8L855.8 1168.3L858.3 1172.5L859.7 1176.7L857.5 1176.7L854.2 1173.3L852.5 1170.8M812.2 1194.2L814.2 1193L816.2 1195L815 1197.2L812.8 1196.7L812.2 1194.2M822.5 1236.7L825.8 1233L830 1232.5L832.5 1236.7L833.3 1242.5L831.7 1247.5L831.7 1250.8L828.3 1254.2L824.2 1251.7L820.8 1252.5L821.7 1247.5L820.3 1242.5L822.5 1236.7M839.7 1325.8L842.5 1323.7L845.8 1325.3L846.7 1329.2L844.2 1332.2L840.8 1331.7L839.2 1329.2L839.7 1325.8M860 1374.2L858.7 1377.5L860 1381.3L865 1383L861.7 1380L860.8 1375.8L860 1374.2M888.3 1362.5L890 1363.3L890.8 1367.5L889.7 1370.3L889.2 1366.7L888.3 1362.5M881.7 1382.5L884.2 1381.3L885.3 1385L885 1390.8L881.7 1390.8L880.8 1386.7L881.7 1382.5M990 218.7L994.2 217.5L996.3 213.3L995.8 209.7L999.2 206.7L1004.2 208.7L1007.5 208.7L1008.7 201.7L1012.5 201.3L1015.8 203L1021.7 200.5L1030.8 200L1033.7 205L1037.5 206.7L1042.5 205L1044.2 207.5L1040.8 210.8L1034.2 213L1033 215.8L1033.7 223.7L1037.5 222.5L1043.3 218.7L1048.3 220.8L1051.7 225.8L1054.2 230L1056.7 233.3L1056.7 237L1050.8 238.3L1050 241.7L1044.2 247.5L1040 253L1043.7 255.8L1051.7 252.5L1056.7 251.7L1063.3 252.5L1070 255.3L1076.7 258.3L1083.3 255.8L1088.3 258.3L1093.3 262L1097.5 264.5L1099.2 261.7L1103.3 260.3L1103.7 255.8L1105.8 253.3L1108.7 246.7L1112.5 248.8L1117.5 248L1119.2 251.7L1122.5 256.7L1127.5 255.8L1131.7 259.2L1134.7 263.3L1139.2 266.3L1142 269.7L1142.5 278.3L1145.3 280.8L1143.3 283.7L1145.8 286.7L1146.7 292L1149.2 296.7L1151.3 302.5L1155 303.3L1156.3 300L1157 294.5L1161.7 295.8L1166.7 298.3L1171.7 298.3L1173.3 300.8L1173.3 308.3L1174.5 313.3L1173.3 320.8L1174.2 325.8L1176.2 330L1175.3 338.3L1177 345L1176.7 348.3L1177.5 354.2L1175.8 359.2L1175 367.5L1172.5 371.7L1171.3 375.3L1174.2 377.5L1173.3 380.8L1170 381.7L1165.8 381.7L1167.5 388.3L1170 391.7L1174.2 395.5L1170 399.2L1164.2 397.5L1160 401.7L1156.7 407.5L1154.2 413.3L1150 411.7L1142.5 410L1141.7 415M1097.5 264.5L1095.8 269.2L1096.7 273.3L1099.2 275.8L1098 282.5L1095.8 283.7L1092 282L1086.7 286.7L1081.3 290.8L1076.7 293.7L1071.7 298.3L1072.8 303.3L1072.2 307.5L1075.8 312.5L1080.8 319.2L1086.7 325.3L1086.3 328L1081.3 327.5L1075.8 324.7L1070.8 322.5L1070.8 320L1067.5 315.8L1063.3 312.5L1060 313.3L1055.8 313.3L1052.5 315.8L1045 316.3L1037.5 317L1030.8 318L1025 320.8L1021.3 324.7L1017.5 330L1011.7 332.5L1006.7 338.3L1001.7 340.8L999.2 343.3L993.3 344.7L990 349.2M1142 415L1141.3 421.7L1136.7 426.7L1131.7 431.7L1125.3 430L1122.5 436.7L1119.2 440L1118.3 445L1120.8 448.3L1121.7 452.5L1116.7 454.2L1110 458.3L1108.7 463.3L1109.2 470L1107.5 475L1114.2 476.7L1117.5 479.2L1115.8 482.5L1119.2 486.7L1118.3 491.7L1114.2 496.7L1108.3 502.5L1114.2 508.3L1120 505L1126.7 499.2L1135 495.8L1145 493.3L1152.5 494.7L1158.3 493L1163.3 493.7L1168.3 496.3L1176.7 493.3L1184.2 492.5L1183.3 495.8L1176.7 499.2L1172.2 501.7L1172.2 511.7L1178.3 513.3L1180 519.2L1183.3 522.5L1179.2 525L1180 529.2L1184.2 530.8L1184.2 537.5L1185.8 539.2L1183.3 545.8L1190 547.5L1194.2 549.2L1200 550L1203.3 553L1209.2 548.7L1213.3 552L1219.2 553L1220.8 560.8L1214.2 560.8L1212.5 567.5L1208.3 570.8L1210.8 578.3L1210.8 584.2L1207.5 588.3L1204.2 590.8L1201.7 598.3L1199.2 603.3L1205 605.8L1213.3 605L1223.3 606.7L1229.2 609.2L1236.7 609.2L1243.3 609.2L1244.2 617.5L1242 621.7L1245 628.3L1253.3 630L1254.2 632.5L1251.7 635L1253.3 640.8L1256.7 643.7L1261.7 640.8L1265.8 638.3L1270 640L1273.3 642.5L1280 642L1286.7 638.3L1290 635M1281.7 665L1277.5 666.7L1276.7 673.3L1282.5 675L1280 677.5L1273.3 677.5L1265 680L1258.3 685L1255 691.7L1253 700L1252.5 707.5L1254.2 710L1256.7 707.5L1260 702.5L1265 701.7L1269.2 705.8L1273.3 711.7L1277.8 715L1277 723.3L1275 730L1270 735L1268 738.3L1270 745L1273.3 750L1280 751.7L1285 750.8L1290 752.5M1252.5 707.5L1250 704.2L1245 700L1240 699.2L1236.3 701.7L1235.8 705L1230 706.7L1223.3 705.8L1218.3 705L1214.2 703L1217.5 706.7L1218.3 710.8L1220.8 712.5L1218.3 715.8L1213.3 719.2L1206.7 720L1201.7 717.5L1195.8 717.5L1192.5 720.8L1191.7 728.3L1190.8 733.3L1185.8 737.5L1182.5 736.7L1180 735L1175 736.7L1168.3 739.2L1164.2 741.7L1160 740.8L1154.2 741.3L1148.3 742L1145.8 738.3L1140.8 735.8L1136.7 734.7L1135.8 739.2L1135 743.3L1130 746.3L1125.8 748.3L1125 753.3L1122.5 757.5L1123.3 762.5L1122.5 765L1125 769.2L1123.3 775L1119.2 779.2L1115.8 784.2L1119.2 786.7L1120 793.3L1121.7 802.5L1116.7 804.2L1110.8 805.8L1105 808.3L1101.7 807.5L1099.2 805L1100.8 809.2L1104.2 813.3L1105 818.3L1108.3 820.8L1111.7 816.7L1114.7 819.2L1114.7 822.5L1117.5 827.5L1119.2 831.7L1121.7 836.7L1118.3 840.8L1117.5 845.8L1120.8 850.8L1125 855.8L1131.7 861.7L1136.7 867.5L1140 872.5L1144.2 877.5L1148.3 881.7L1150.8 886.7L1156.7 889.2L1160.8 894.2L1164.2 898.3L1162.5 902.5L1161.7 907.5L1165 911.7L1167.5 915M1068.3 868.3L1072.5 865.8L1071.7 870.8L1076.7 873.3L1081.7 877.5L1085.8 881.7L1088.3 885L1093.3 884.7L1090 887.5L1089.2 893.3L1091.7 900L1093.3 906.7L1096.7 912.5L1098.3 915M1072.5 871.7L1073.3 876.7L1070.8 881.7L1073.3 888.3L1071.7 895L1067.5 896.7L1069.2 901.7L1065 906.7L1061.7 911.7L1060 915M1104 921.2L1107.5 919.3L1111.2 920.2L1112 924.7L1111.2 930L1110.2 935.3L1108 936.2L1106.2 932.7L1104.5 930L1105.3 925.5L1104 921.2M1098.3 915L1098.7 920.2L1102.2 918L1107.5 917.2L1113.8 916.7L1118.2 915.3L1120.5 915.8L1116.5 917.5L1114.7 921.2L1115.5 928.2L1115.5 934.5L1112.8 938.8L1110.7 943.3L1112 946.8L1115.5 950L1118.3 953.3L1119.2 960L1121.7 970L1123.3 980L1120 984.2L1121.7 990L1125 991.7L1122.5 1001.7L1124.2 1010L1127.5 1018.3L1130 1025L1133.3 1033.3L1135 1040L1138.3 1046.7L1141.7 1050L1140.8 1055.8L1138.3 1057.5L1140 1065L1141.7 1070L1140 1073.3L1143.3 1077.5L1142.5 1083.3L1145 1085L1145.8 1078.3L1147.5 1071.7L1148.3 1065L1146.7 1056.7L1145 1055.8L1147.5 1061.7L1146.7 1070L1150 1075L1154.2 1080L1158.3 1086.7L1160 1093.3L1163.3 1100L1166.7 1105L1167.5 1111.7L1169.2 1118.3L1171.7 1126.7L1174.2 1131.7L1172.5 1136.7L1173.3 1141.7L1170.8 1146.7L1168.3 1151.7L1165 1155.8L1169.2 1159.2L1174.2 1157.5L1172.5 1162.5L1170.8 1165M1167.5 915L1170.8 920L1172.5 927.5L1174.2 930.8L1178.3 925.8L1181.7 921.7L1185.3 925.8L1184.2 933.3L1180 940L1174.2 940L1169.2 943.3L1165.8 945.8L1166.7 956.7L1165.8 970L1165 981.7L1160.8 982.5L1157.5 985L1155 988.3L1150.8 986.7L1147.5 990L1144.2 995L1144.2 1001.7L1146.7 1008.3L1149.2 1015L1154.2 1021.7L1158.3 1026.7L1162.5 1031.7L1165.8 1037.5L1170.8 1041.7L1174.2 1044.2L1178.3 1047.5L1183.3 1050.8L1187.5 1053.3L1189.2 1058.3L1192.5 1063.3L1196.7 1066.7L1198.3 1073.3L1200.3 1081.7L1201.3 1090L1202 1098.3L1200.8 1103.3L1197.5 1104.2L1196.7 1110L1198.3 1115L1200.8 1121.7L1203.3 1128.3L1206.7 1131.7L1211.7 1136.7L1214.2 1145L1215.8 1153.3L1217.5 1160L1219.2 1164.2L1221.7 1163.3M1290 1086.7L1283.3 1085L1280 1084.2L1279.7 1080.8L1277.5 1085L1270 1086.7L1263.3 1086.3L1256.7 1089.2L1249.2 1092L1245 1095.8L1244.2 1099.2L1248.3 1102.5L1252.5 1111.7L1250 1120L1247.5 1128.3L1245 1138.3L1245.8 1148.3L1247.5 1156.7L1246.7 1165M1129.2 1015L1131.7 1014.2L1134.2 1017.5L1136.3 1022.5L1133.3 1020.8L1130 1019.2L1129.2 1015M1115.3 970.3L1116.3 970.8L1116.7 974.7L1115.5 974.2L1115.3 970.3M1130 1067L1131.3 1067.5L1131.2 1071.3L1130 1070.8L1130 1067M1148.3 1102.5L1150 1103.3L1151.3 1109.2L1153.3 1110.8L1152 1114.2L1152.5 1119.2L1150.8 1117.5L1149.7 1111.7L1148.3 1106.7L1148.3 1102.5M1125.8 1126.2L1127.2 1125.8L1127.7 1127.5L1126.3 1128L1125.8 1126.2M1125.3 1138.3L1127 1137.8L1127.7 1140L1126 1140.5L1125.3 1138.3M1152.5 1133.3L1156.7 1134.2L1160 1138.3L1161.7 1142.5L1159.2 1145.8L1155.8 1148.3L1152.5 1150.8L1151.3 1145.8L1154.2 1141.7L1152.5 1137.5L1152.5 1133.3M1148 1140L1150 1139.5L1150.7 1142.5L1148.7 1143L1148 1140M1162.2 1143L1163.7 1143.3L1163.8 1147L1162.5 1146.7L1162.2 1143M1131.7 1149.2L1135.8 1147.5L1140.8 1147.5L1139.2 1151.7L1135 1154.2L1131.7 1152.5L1131.7 1149.2M1137.5 1155.8L1140.8 1155L1142.5 1160L1140 1162.5L1138 1159.2L1137.5 1155.8M1170.8 1165L1175 1168.3L1173.3 1174.2L1170 1178.3L1173.3 1180.8L1178.3 1183.3L1180.8 1180L1181.7 1184.2L1185 1186.7L1180 1187.5L1177.5 1190L1178.3 1198.3L1175 1202.5L1176.7 1208.3L1177.5 1215L1174.2 1219.2L1175.8 1225L1173.3 1231.7L1168.3 1235L1166.7 1240L1161.7 1241.7L1160.8 1248.3L1163.3 1255L1164.2 1263.3L1162.5 1271.7L1164.2 1278.3L1165 1283.3L1169.2 1278.3L1173.3 1270L1176.7 1263.3L1179.2 1253.3L1177.5 1246.7L1180 1241.7L1185.8 1237.5L1190 1233.3L1193.3 1228.3L1199.2 1224.2L1203.3 1218.3L1208.3 1210L1213.3 1201.7L1215.8 1193.3L1220.8 1190L1225 1185L1225.8 1180L1223.3 1175L1220.8 1170L1220.8 1165M1165 1283.3L1169.2 1281.7L1166.7 1290L1164.2 1298.3L1161.7 1306.7L1158.3 1315L1155 1325L1152.5 1331.7L1150.8 1340L1149.2 1348.3L1147.5 1356.7L1146.7 1365L1148.3 1373.3L1150.8 1381.7L1151.7 1386.7L1150.8 1392.5M1246.7 1165L1241.7 1170L1237.5 1176.7L1236.7 1183.3L1232.5 1188.3L1228.3 1196.7L1225 1205L1222.5 1213.3L1220 1218.3L1219.2 1226.7L1220 1231.7L1215.8 1236.7L1212.5 1243.3L1206.7 1250L1205 1256.7L1200 1261.7L1200.8 1265L1205.8 1269.2L1201.7 1271.7L1199.2 1278.3L1200.8 1285L1199.2 1295L1201.7 1303.3L1205 1311.7L1208.3 1315.8L1204.2 1320.8L1205.8 1325.8L1212.5 1327.5L1219.2 1325L1223.3 1322.5L1230 1320.8L1236.7 1320.8L1240 1325L1242.5 1333.3L1243.3 1341.7L1245 1351.7L1246.7 1360L1250.8 1364.2L1254.2 1368.3L1256.7 1372.5L1256.7 1367.5L1255 1365L1258.3 1366.7L1260.8 1373.3L1262.5 1381.7L1264.2 1392.5M1115.2 1178.3L1116.1 1177.3L1116.9 1178.3L1116.1 1179.3L1115.2 1178.3M1104 1182.3L1105 1181.7L1106 1182.3L1105 1182.9L1104 1182.3M1135 1178.3L1136.7 1180L1139.2 1186.7L1140 1190.8L1137.5 1189.2L1135.8 1184.2L1135 1178.3M1148.2 1174.6L1149.2 1172.8L1150.2 1174.6L1149.2 1176.3L1148.2 1174.6M1150 1181.7L1152.5 1182.5L1151.7 1190L1150 1197.5L1147.5 1200.8L1144.2 1200.8L1146.7 1195L1148.3 1188.3L1150 1181.7M1156.7 1182.5L1165 1181.7L1165.8 1188.3L1164.2 1195.8L1159.2 1195L1157.5 1189.2L1156.7 1182.5M1162.5 1174.2L1168.3 1173.3L1173.3 1175.8L1169.2 1178.3L1164.2 1177.5L1162.5 1174.2M1158.3 1165L1161.7 1170L1165.8 1170.8L1165 1166.7L1163.3 1165M1147.8 1212.9L1149.6 1211.7L1151.3 1212.9L1149.6 1214.2L1147.8 1212.9M1128.3 1230.8L1132.5 1230.3L1131.7 1233.7L1128.7 1234.7L1128.3 1230.8M1139.2 1231.7L1141.7 1228.3L1145.8 1228.3L1148.3 1233.3L1150.8 1238.3L1150.8 1243.3L1147.5 1242.5L1146.7 1236.7L1143.3 1232.5L1140.8 1233.3L1139.2 1231.7M1159.2 1226.7L1164.2 1222.5L1165 1229.2L1161.7 1229.2L1159.2 1226.7M1162.5 1233.3L1167.5 1232.5L1166.7 1238.3L1163.3 1240.8L1162.5 1233.3M1129.2 1257.9L1130.4 1256.2L1131.7 1257.9L1130.4 1259.7L1129.2 1257.9M1145.7 1254.4L1146.7 1253.3L1147.7 1254.4L1146.7 1255.6L1145.7 1254.4M1144.2 1271.7L1148.3 1273.3L1147.5 1278.3L1151.7 1279.2L1149.2 1284.2L1145 1287.5L1142.5 1290.8L1141.3 1287.5L1144.2 1281.7L1145 1276.7L1144.2 1271.7M1135.7 1293.3L1136.7 1292.3L1137.7 1293.3L1136.7 1294.3L1135.7 1293.3M1156.4 1297.1L1157.2 1295.8L1158.1 1297.1L1157.2 1298.3L1156.4 1297.1M1126.3 1314.3L1127.7 1312.7L1129.1 1314.3L1127.7 1315.9L1126.3 1314.3M1163.3 1298.3L1164.6 1297.3L1165.8 1298.3L1164.6 1299.3L1163.3 1298.3M1162.3 1306.7L1163.3 1305.7L1164.3 1306.7L1163.3 1307.7L1162.3 1306.7M1148.3 1329.2L1152.5 1328.3L1155.8 1333.3L1155 1339.2L1150.8 1340.8L1148.3 1336.7L1148.3 1329.2M1176.7 1392.5L1177.5 1386.7L1176.7 1380L1173.3 1375.8L1169.2 1371.7L1163.3 1374.2L1158.3 1376.7L1160 1381.7L1156.7 1385L1152.5 1383.3L1154.2 1388.3L1158.3 1389.2L1163.3 1388.3L1166.7 1385L1170 1381.7L1169.2 1388.3L1166.7 1392.5M1245.8 1294.2L1249.2 1293L1252 1296.7L1251.7 1300.8L1248.3 1299.7L1246.3 1296.7L1245.8 1294.2M1242.5 1306.7L1247.5 1305.8L1251.7 1306.7L1250 1313.3L1244.2 1315L1242.5 1310L1242.5 1306.7M1227.8 1303.8L1228.3 1303.3L1228.8 1303.8L1228.3 1304.3L1227.8 1303.8M1228.5 1309L1229.2 1308.4L1229.9 1309L1229.2 1309.6L1228.5 1309M1290 635L1295 630L1303.3 626.7L1309.2 624.7L1310.8 630L1312.5 635L1312.5 640L1314.2 648.3L1315.8 655L1320 656.7L1326.7 654.7L1333.3 655L1336.7 657.5L1341.7 660L1344.2 657.5L1348.3 655L1344.2 650L1343.3 643.3L1344.2 636.7L1346.7 631.7L1344.2 623.3L1341.7 616.7L1337.5 610L1335 603.3L1331.7 598.3L1335.8 595L1338.3 588.3L1342.5 584.2L1345.8 585L1349.2 590L1353.3 587.5L1360 586.7L1365.8 589.2L1370 587.5L1375 581.7L1379.2 577.5L1378.3 575L1383.3 569.2L1386.7 570L1393.3 572.5L1401.7 575.8L1406.7 580L1409.2 584.2L1412.5 585.8M1365.8 589.2L1368.3 595L1375 600L1381.7 605.8L1386.7 611.7L1391.7 617.5L1394.2 623.3L1395 630L1400 630.8L1402.5 626.7L1403.3 621.7L1405.8 628.3L1412.5 626.7M1311.7 637.5L1306.7 640.8L1300 645L1293.3 650L1287.5 650.8L1285 656.7L1282.5 663.3L1280 665M1412.5 635.8L1409.2 639.2L1406.7 643.3L1407.5 648.3L1404.2 653.3L1408.3 656.7L1410.8 663.3M1290 751.7L1294.2 746.7L1299.2 745L1305 745.8L1310 747.5L1315.8 746.7L1317.5 750.8L1313.3 755L1314.2 761.7L1315.8 769.2L1318.3 775L1321.2 778.3L1317.5 784.2L1315 790L1316.3 797.5L1312.5 801.7L1307.5 806.7L1304.2 811.7L1307.5 815.8L1311.3 817.5L1310 823.3L1311.7 829.2L1310 834.2L1305.8 838.3L1301.7 843.3L1299.2 851.7L1295.8 859.2L1301.7 861.7L1310 865.8L1314.2 860L1320 855L1324.2 850.8L1330 848.3L1335 843.3L1341.7 840L1345.8 831.7L1352.5 833.3L1356.7 829.2L1361.7 824.2L1367.5 823.7L1371.7 828.3L1378.3 832.5L1385 836.7L1391.7 838.3L1393.3 844.2L1395.8 845.8L1401.7 840L1408.3 835.8L1412.5 835M1290 1086.7L1296.7 1087.5L1302.5 1088.3L1301.7 1094.2L1298.3 1096.7L1299.2 1103.3L1296.7 1108.3L1299.2 1113.3L1295.8 1118.3L1297.5 1124.2L1294.2 1129.2L1295 1134.2L1300 1136.7M1412.5 1046.7L1409.2 1051.7L1406.7 1058.3L1401.7 1063.3L1398.3 1070L1393.3 1074.2L1388.3 1076.7L1391.7 1080L1385 1082.5L1376.7 1084.2L1376.7 1095L1378.3 1101.7L1382.5 1110L1385 1118.3M1300 1136.8L1303.2 1133.6L1307.2 1132.4L1312 1132.8L1318.4 1134L1325.6 1137.2L1330.4 1135.2L1335.2 1134.4L1339.2 1133.6L1340.8 1130.8L1344.8 1130.4L1348.8 1132.4L1352 1136.8L1355.2 1138.8L1358.4 1140L1361.6 1141.2L1365.6 1144L1368.8 1147.2L1372 1152L1373.6 1156L1374.4 1159.6L1378.4 1159.2L1383.2 1160.8L1387.2 1163.6L1389.6 1167.6L1391.2 1166.4L1390.4 1161.6L1391.2 1158.4L1393.6 1159.2L1396 1163.2L1400 1168L1402.4 1172.8L1404.8 1176.8L1408.8 1181.6L1412 1186.4M1384.8 1120L1386 1123.2L1386.8 1127.2L1385.2 1130.4L1386 1134L1389.6 1136L1393.6 1139.2L1397.6 1142.4L1400.4 1145.6L1401.6 1147.6L1398.8 1150.4L1398 1155.2L1397.2 1160L1396.8 1163.6M1372.4 1162L1374.4 1161.2L1378 1162.4L1380.8 1165.6L1383.6 1169.6L1383.2 1172.4L1379.2 1172L1375.2 1172.8L1374 1169.6L1373.2 1165.6L1372.4 1162M1359.2 1138.8L1363.2 1138.8L1365.2 1141.2L1363.2 1143.2L1360 1142L1359.2 1138.8M1360.8 1139.6L1363.2 1141.2M1369.6 1146L1375.2 1146L1376 1148.8L1378.8 1150L1378.8 1152.8L1375.6 1153.6L1373.6 1151.6L1371.2 1149.2L1369.6 1146M1371.6 1147.2L1374.4 1148L1376.8 1151.6M1388 1184L1390 1183.2L1392.4 1188L1392.8 1195.2L1390.4 1195.2L1387.6 1192.8L1388.4 1188L1388 1184M1402.4 1171.2L1404 1177.6L1407.2 1183.2L1410.4 1188.8L1412 1196M935 895L933 899L932.5 905L930.5 912L929 915L926 917.5L925 926L923.5 935L922.5 943L923.5 948L926 949.5L930 948L931.5 944.5L935 943L939 938L941 932L942.5 930.5L943.5 932.5L942 937L940 942L937 947L935 951L935.5 955L933.5 956L933 952L932 947L931.5 944.5M937 947L940 945L943 950L946 945L948 939L949.5 933L949 925L948.5 918L952.5 917.5L952.8 926L951 931L950 937L949 943L947 948L945 951L949 954L952 958L955 959L954 955L953 951L955 946L957 940L959 936L963 934.5L967.5 933L966 935L962 937L960 940L961 943L963 945L960 948L958 951L960 955L962 956L959 957L957 959L961 960L965 961L969 959L971 954L971 947L972 942L974 939L980 939.5L979 942L975 943L974 947L974 952L975 957L977 959L980 957L982 951L984 947L986 942L987.5 939L988 944L987 951L984.5 955L983 960L984 962.5L988 963.5L991 962.5L995 959L999 955L1003 951L1006 947L1006.5 942L1008.5 939L1007.5 935L1011 937L1015 935L1019 933.5L1023 932.5L1026.5 930L1028 927.5L1023.5 925.5L1027 927L1032 928L1038 926.5L1041 924L1042.5 921.5L1039 918L1037 913L1035 908L1032.5 904L1036 902.5L1039.5 901.8L1036.5 904L1037 908L1038 914L1041 917.5L1045 919.5L1050 920L1055 919L1060 916L1063 912L1066 909L1068.5 905L1070 900L1069 897L1072 895M944 929.5L947 927.5L948.5 924M946 943L947.5 937L948.5 930M954 942L952 947L950 951"/>

</g>
<g class="g">
<path d="M800 166V1392M911.7 166V1392M1023.4 166V1392M1135.1 166V1392M1246.8 166V1392M1358.5 166V1392"/>
<path d="M691 332.5H1413M691 500.2H1413M691 667.9H1413M691 835.6H1413M691 1003.3H1413M691 1171H1413M691 1338.7H1413"/>
</g>
<rect x="691.5" y="166.5" width="722" height="1226" fill="none" stroke="#000" stroke-width="3.33"/>
<g class="l" text-anchor="end" transform="scale(1,1.035)">
<text x="670.2" y="333.33">27°N</text><text x="670.2" y="495.36">24°N</text><text x="670.2" y="657.39">21°N</text><text x="670.2" y="819.42">18°N</text><text x="670.2" y="981.45">15°N</text><text x="670.2" y="1143.48">12°N</text><text x="670.2" y="1305.51">9°N</text>
</g>
<g class="l" text-anchor="middle" transform="scale(1,1.035)">
<text x="800.0" y="1397.49">92°E</text><text x="911.7" y="1397.49">94°E</text><text x="1023.4" y="1397.49">96°E</text><text x="1135.1" y="1397.49">98°E</text><text x="1358.5" y="1397.49">102°E</text>
</g>
<g>
<rect x="1499" y="223.3" width="61" height="131.8" fill="#d43d4f"/>
<rect x="1499" y="354.1" width="61" height="130.7" fill="#fa9b58"/>
<rect x="1499" y="483.8" width="61" height="130.8" fill="#fee18d"/>
<rect x="1499" y="613.6" width="61" height="130.7" fill="#f5fbaf"/>
<rect x="1499" y="743.3" width="61" height="130.8" fill="#bae3a1"/>
<rect x="1499" y="873.1" width="61" height="130.8" fill="#60bba8"/>
<rect x="1499" y="1002.9" width="61" height="130.7" fill="#3880b9"/>
<rect x="1499" y="1132.6" width="61" height="130.8" fill="#4e63ac"/>
<rect x="1499" y="1262.4" width="61" height="130.1" fill="#5b53a4"/>
<path d="M1499 224.3L1529.5 165.5L1560 224.3Z" fill="#9e0142"/>
<path d="M1499 1392.5V224.3L1529.5 165.5L1560 224.3V1392.5Z" fill="none" stroke="#000" stroke-width="3" stroke-linejoin="miter"/>
<path d="M1560 224.3h15M1560 354.1h15M1560 483.8h15M1560 613.6h15M1560 743.3h15M1560 873.1h15M1560 1002.9h15M1560 1132.6h15M1560 1262.4h15M1560 1392.5h15" stroke="#000" stroke-width="3.33" fill="none"/>
</g>
<g class="l" transform="scale(1,1.035)">
<text x="1589.0" y="232.08">150</text><text x="1589.0" y="357.49">120</text><text x="1589.0" y="482.81">100</text><text x="1589.0" y="608.22">80</text><text x="1589.0" y="733.53">60</text><text x="1589.0" y="858.94">40</text><text x="1589.0" y="984.35">20</text><text x="1589.0" y="1109.67">10</text><text x="1589.0" y="1235.08">5</text><text x="1589.0" y="1360.78">2</text>
</g>
</svg>
</body></html>
